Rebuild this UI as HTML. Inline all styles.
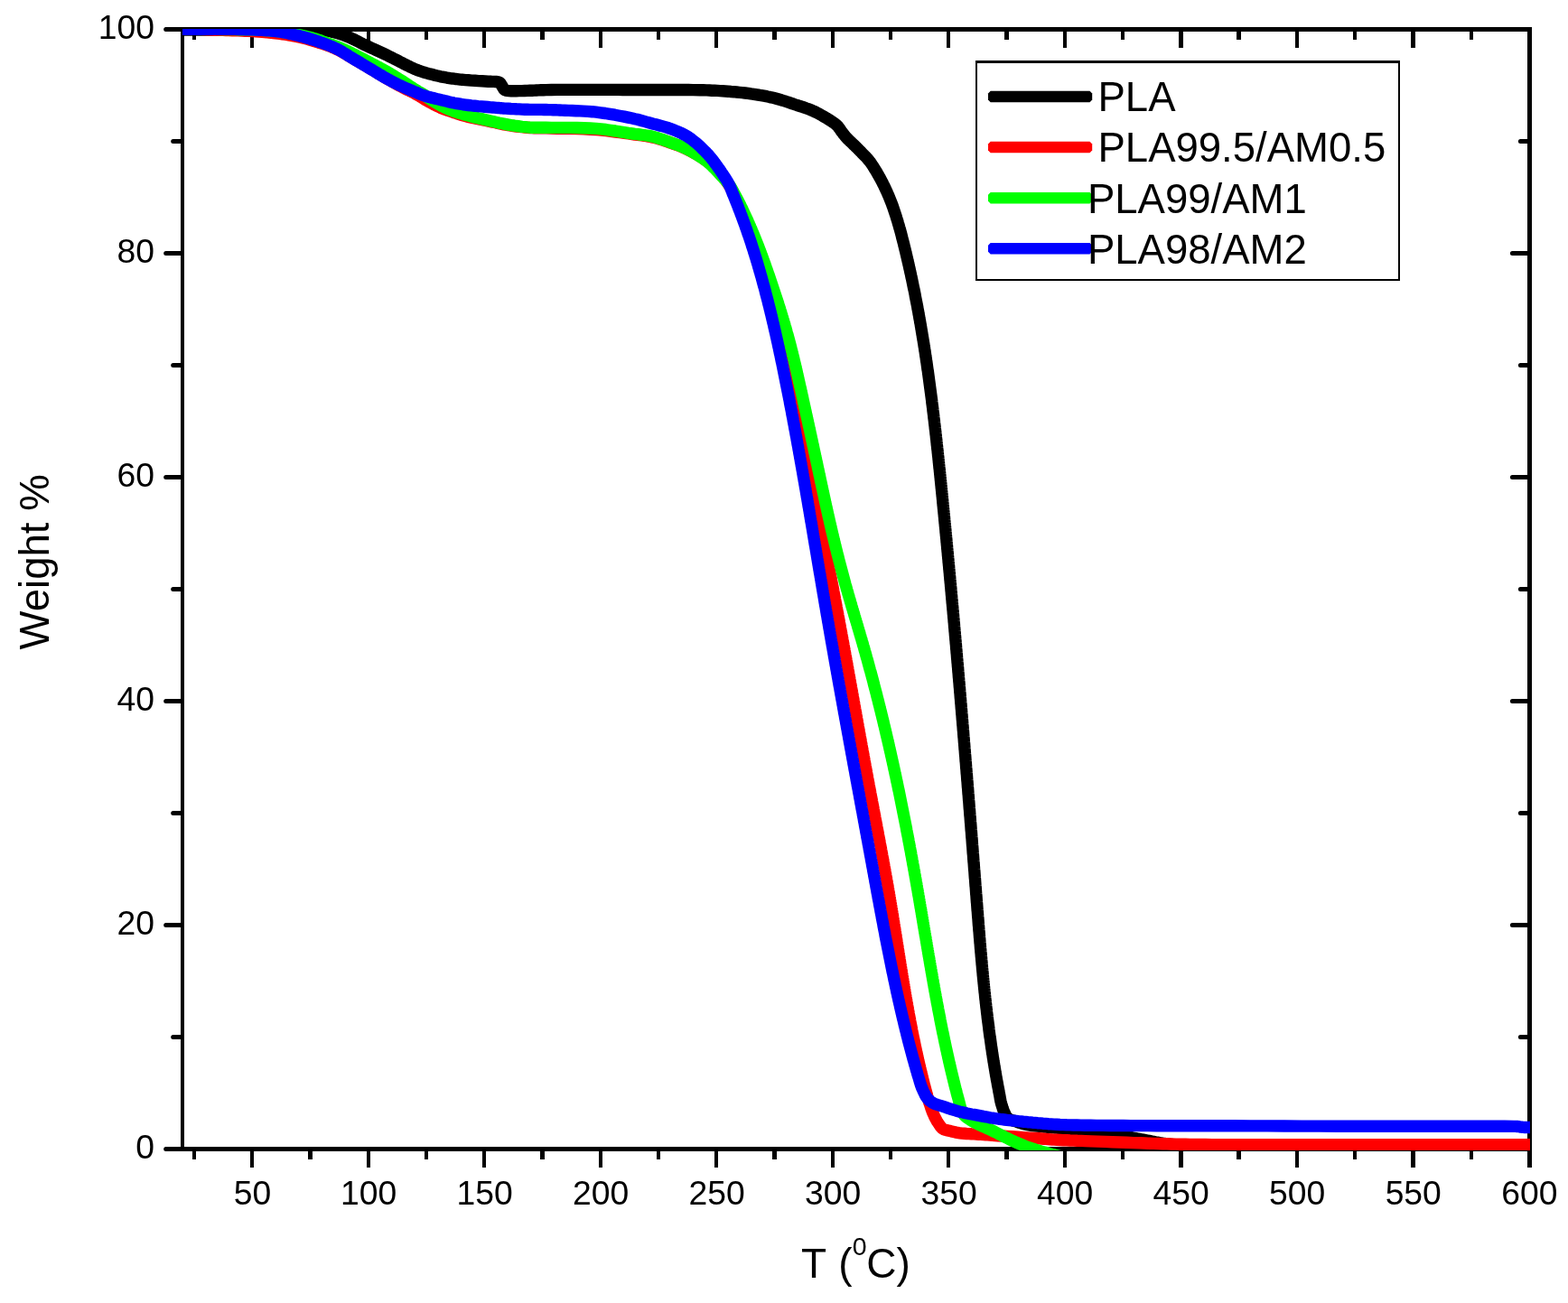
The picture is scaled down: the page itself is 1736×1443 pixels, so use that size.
<!DOCTYPE html>
<html lang="en"><head><meta charset="utf-8"><title>TGA curves: Weight % vs T</title>
<style>html,body{margin:0;padding:0;background:#fff}body{width:1736px;height:1443px;overflow:hidden}svg{display:block}text{font-family:"Liberation Sans",sans-serif;fill:#000}</style></head><body>
<svg width="1736" height="1443" viewBox="0 0 1736 1443">
<rect x="0" y="0" width="1736" height="1443" fill="#fff"/>
<defs><clipPath id="plot"><rect x="202" y="32" width="1492.00" height="1242.00"/></clipPath></defs>
<g fill="#000" shape-rendering="crispEdges">
<rect x="182.50" y="30.00" width="1513.50" height="5.00"/>
<rect x="182.50" y="1270.00" width="1513.50" height="5.00"/>
<rect x="200.00" y="30.00" width="4.00" height="1245.00"/>
<rect x="1691.00" y="30.00" width="5.00" height="1263.00"/>
<rect x="213.00" y="1272.50" width="4.00" height="11.50"/>
<rect x="213.00" y="32.50" width="4.00" height="11.50"/>
<rect x="277.00" y="1272.50" width="4.00" height="20.50"/>
<rect x="277.00" y="32.50" width="4.00" height="20.50"/>
<rect x="341.00" y="1272.50" width="5.00" height="11.50"/>
<rect x="341.00" y="32.50" width="5.00" height="11.50"/>
<rect x="406.00" y="1272.50" width="4.00" height="20.50"/>
<rect x="406.00" y="32.50" width="4.00" height="20.50"/>
<rect x="470.00" y="1272.50" width="4.00" height="11.50"/>
<rect x="470.00" y="32.50" width="4.00" height="11.50"/>
<rect x="534.00" y="1272.50" width="4.00" height="20.50"/>
<rect x="534.00" y="32.50" width="4.00" height="20.50"/>
<rect x="598.00" y="1272.50" width="5.00" height="11.50"/>
<rect x="598.00" y="32.50" width="5.00" height="11.50"/>
<rect x="663.00" y="1272.50" width="4.00" height="20.50"/>
<rect x="663.00" y="32.50" width="4.00" height="20.50"/>
<rect x="727.00" y="1272.50" width="4.00" height="11.50"/>
<rect x="727.00" y="32.50" width="4.00" height="11.50"/>
<rect x="791.00" y="1272.50" width="4.00" height="20.50"/>
<rect x="791.00" y="32.50" width="4.00" height="20.50"/>
<rect x="855.00" y="1272.50" width="5.00" height="11.50"/>
<rect x="855.00" y="32.50" width="5.00" height="11.50"/>
<rect x="920.00" y="1272.50" width="4.00" height="20.50"/>
<rect x="920.00" y="32.50" width="4.00" height="20.50"/>
<rect x="984.00" y="1272.50" width="4.00" height="11.50"/>
<rect x="984.00" y="32.50" width="4.00" height="11.50"/>
<rect x="1048.00" y="1272.50" width="4.00" height="20.50"/>
<rect x="1048.00" y="32.50" width="4.00" height="20.50"/>
<rect x="1112.00" y="1272.50" width="5.00" height="11.50"/>
<rect x="1112.00" y="32.50" width="5.00" height="11.50"/>
<rect x="1177.00" y="1272.50" width="4.00" height="20.50"/>
<rect x="1177.00" y="32.50" width="4.00" height="20.50"/>
<rect x="1241.00" y="1272.50" width="4.00" height="11.50"/>
<rect x="1241.00" y="32.50" width="4.00" height="11.50"/>
<rect x="1305.00" y="1272.50" width="5.00" height="20.50"/>
<rect x="1305.00" y="32.50" width="5.00" height="20.50"/>
<rect x="1369.00" y="1272.50" width="5.00" height="11.50"/>
<rect x="1369.00" y="32.50" width="5.00" height="11.50"/>
<rect x="1434.00" y="1272.50" width="4.00" height="20.50"/>
<rect x="1434.00" y="32.50" width="4.00" height="20.50"/>
<rect x="1498.00" y="1272.50" width="4.00" height="11.50"/>
<rect x="1498.00" y="32.50" width="4.00" height="11.50"/>
<rect x="1562.00" y="1272.50" width="5.00" height="20.50"/>
<rect x="1562.00" y="32.50" width="5.00" height="20.50"/>
<rect x="1627.00" y="1272.50" width="4.00" height="11.50"/>
<rect x="1627.00" y="32.50" width="4.00" height="11.50"/>
<rect x="1674.30" y="1270.00" width="19.30" height="5.00"/>
<rect x="191.50" y="1146.00" width="10.50" height="5.00"/>
<rect x="1683.30" y="1146.00" width="10.30" height="5.00"/>
<rect x="183.50" y="1022.00" width="18.50" height="5.00"/>
<rect x="1674.30" y="1022.00" width="19.30" height="5.00"/>
<rect x="191.50" y="898.00" width="10.50" height="5.00"/>
<rect x="1683.30" y="898.00" width="10.30" height="5.00"/>
<rect x="183.50" y="774.00" width="18.50" height="5.00"/>
<rect x="1674.30" y="774.00" width="19.30" height="5.00"/>
<rect x="191.50" y="650.00" width="10.50" height="5.00"/>
<rect x="1683.30" y="650.00" width="10.30" height="5.00"/>
<rect x="183.50" y="526.00" width="18.50" height="5.00"/>
<rect x="1674.30" y="526.00" width="19.30" height="5.00"/>
<rect x="191.50" y="402.00" width="10.50" height="5.00"/>
<rect x="1683.30" y="402.00" width="10.30" height="5.00"/>
<rect x="183.50" y="278.00" width="18.50" height="5.00"/>
<rect x="1674.30" y="278.00" width="19.30" height="5.00"/>
<rect x="191.50" y="154.00" width="10.50" height="5.00"/>
<rect x="1683.30" y="154.00" width="10.30" height="5.00"/>
<rect x="1674.30" y="30.00" width="19.30" height="5.00"/>
</g>
<g fill="#000">
<circle cx="183.70" cy="1272.50" r="2.5"/>
<circle cx="191.70" cy="1148.50" r="2.5"/>
<circle cx="1683.40" cy="1148.50" r="2.5"/>
<circle cx="183.70" cy="1024.50" r="2.5"/>
<circle cx="1674.40" cy="1024.50" r="2.5"/>
<circle cx="191.70" cy="900.50" r="2.5"/>
<circle cx="1683.40" cy="900.50" r="2.5"/>
<circle cx="183.70" cy="776.50" r="2.5"/>
<circle cx="1674.40" cy="776.50" r="2.5"/>
<circle cx="191.70" cy="652.50" r="2.5"/>
<circle cx="1683.40" cy="652.50" r="2.5"/>
<circle cx="183.70" cy="528.50" r="2.5"/>
<circle cx="1674.40" cy="528.50" r="2.5"/>
<circle cx="191.70" cy="404.50" r="2.5"/>
<circle cx="1683.40" cy="404.50" r="2.5"/>
<circle cx="183.70" cy="280.50" r="2.5"/>
<circle cx="1674.40" cy="280.50" r="2.5"/>
<circle cx="191.70" cy="156.50" r="2.5"/>
<circle cx="1683.40" cy="156.50" r="2.5"/>
<circle cx="183.70" cy="32.50" r="2.5"/>
</g>
<g font-size="37.3">
<text x="279.50" y="1334.20" text-anchor="middle">50</text>
<text x="408.02" y="1334.20" text-anchor="middle">100</text>
<text x="536.55" y="1334.20" text-anchor="middle">150</text>
<text x="665.08" y="1334.20" text-anchor="middle">200</text>
<text x="793.60" y="1334.20" text-anchor="middle">250</text>
<text x="922.12" y="1334.20" text-anchor="middle">300</text>
<text x="1050.65" y="1334.20" text-anchor="middle">350</text>
<text x="1179.17" y="1334.20" text-anchor="middle">400</text>
<text x="1307.70" y="1334.20" text-anchor="middle">450</text>
<text x="1436.22" y="1334.20" text-anchor="middle">500</text>
<text x="1564.75" y="1334.20" text-anchor="middle">550</text>
<text x="1693.28" y="1334.20" text-anchor="middle">600</text>
<text x="170.90" y="1282.80" text-anchor="end">0</text>
<text x="170.90" y="1034.80" text-anchor="end">20</text>
<text x="170.90" y="786.80" text-anchor="end">40</text>
<text x="170.90" y="538.80" text-anchor="end">60</text>
<text x="170.90" y="290.80" text-anchor="end">80</text>
<text x="170.90" y="42.80" text-anchor="end">100</text>
</g>
<text x="887.1" y="1414.9" font-size="46">T <tspan dx="1">(</tspan><tspan font-size="28.5" dy="-24.6" dx="0.3">0</tspan><tspan dy="24.6" dx="-0.3">C)</tspan></text>
<text transform="translate(53.7,622.4) rotate(-90)" font-size="45.6" text-anchor="middle">Weight %</text>
<g clip-path="url(#plot)" fill="none" stroke-width="13.40" stroke-linejoin="round" stroke-linecap="butt">
<path stroke="#000000" d="M190.0,33.0 L191.4,33.0 L192.7,33.0 L194.0,33.0 L195.3,33.0 L196.7,33.0 L198.2,33.0 L199.9,33.0 L202.0,33.0 L210.0,33.0 L220.6,33.0 L233.3,33.0 L247.1,33.0 L261.5,33.0 L275.6,33.0 L288.7,33.0 L300.0,33.0 L307.3,33.0 L314.5,33.0 L321.5,33.0 L328.2,33.0 L334.5,33.0 L340.3,33.1 L345.5,33.2 L350.0,33.3 L351.9,33.4 L353.6,33.4 L355.1,33.5 L356.5,33.6 L357.8,33.7 L359.2,33.8 L360.5,34.0 L362.0,34.2 L363.6,34.5 L365.2,34.7 L366.8,35.0 L368.4,35.4 L370.1,35.8 L371.7,36.2 L373.3,36.6 L375.0,37.1 L376.8,37.7 L378.7,38.3 L380.6,39.0 L382.5,39.7 L384.4,40.5 L386.3,41.2 L388.2,42.0 L390.0,42.8 L391.7,43.6 L393.4,44.4 L395.0,45.2 L396.6,46.0 L398.2,46.9 L399.9,47.8 L401.7,48.7 L403.6,49.6 L406.4,50.9 L409.5,52.4 L412.7,53.8 L416.1,55.4 L419.4,56.9 L422.7,58.4 L425.9,59.9 L428.8,61.3 L431.0,62.4 L433.2,63.5 L435.2,64.5 L437.2,65.6 L439.2,66.6 L441.2,67.6 L443.1,68.6 L445.1,69.6 L447.0,70.6 L448.9,71.5 L450.8,72.5 L452.8,73.4 L454.6,74.4 L456.5,75.2 L458.3,76.1 L460.0,76.8 L461.3,77.3 L462.5,77.8 L463.7,78.2 L464.9,78.6 L466.1,79.0 L467.3,79.4 L468.6,79.8 L470.0,80.2 L472.0,80.8 L474.1,81.4 L476.4,82.0 L478.7,82.6 L481.0,83.2 L483.3,83.8 L485.6,84.3 L487.7,84.8 L489.4,85.1 L491.1,85.4 L492.7,85.7 L494.3,86.0 L495.9,86.3 L497.5,86.5 L499.1,86.8 L500.8,87.0 L502.6,87.2 L504.3,87.5 L506.0,87.7 L507.8,87.9 L509.5,88.1 L511.4,88.2 L513.3,88.4 L515.4,88.6 L518.6,88.8 L522.1,89.1 L525.9,89.3 L529.8,89.6 L533.7,89.8 L537.3,90.0 L540.5,90.2 L543.2,90.3 L544.4,90.4 L545.5,90.4 L546.5,90.4 L547.5,90.4 L548.4,90.5 L549.2,90.5 L550.7,90.7 L551.5,90.8 L552.6,91.1 L553.5,91.6 L554.2,92.4 L554.8,93.4 L555.4,94.5 L556.0,95.5 L556.6,96.5 L557.2,97.6 L557.8,98.6 L558.5,99.4 L559.4,99.9 L560.5,100.2 L561.5,100.4 L563.3,100.6 L565.7,100.7 L568.4,100.7 L571.5,100.7 L574.7,100.6 L577.9,100.6 L581.1,100.5 L584.0,100.4 L586.6,100.3 L589.0,100.2 L591.4,100.1 L593.8,100.0 L596.2,99.9 L598.8,99.8 L601.6,99.7 L604.7,99.6 L610.4,99.5 L616.9,99.4 L623.9,99.4 L631.2,99.4 L638.7,99.4 L646.2,99.4 L653.3,99.4 L660.0,99.4 L665.2,99.4 L670.2,99.4 L674.9,99.4 L679.6,99.4 L684.4,99.4 L689.3,99.5 L694.4,99.5 L700.0,99.5 L708.5,99.5 L718.0,99.5 L728.2,99.5 L738.6,99.5 L748.8,99.5 L758.5,99.5 L767.4,99.6 L775.0,99.8 L778.8,99.8 L782.2,99.9 L785.4,100.0 L788.3,100.2 L791.2,100.3 L794.1,100.4 L797.0,100.6 L800.0,100.8 L803.1,101.0 L806.3,101.2 L809.4,101.5 L812.5,101.7 L815.6,102.0 L818.8,102.3 L821.9,102.6 L825.0,103.0 L828.2,103.4 L831.4,103.9 L834.7,104.3 L837.9,104.8 L841.1,105.4 L844.2,105.9 L847.2,106.4 L850.0,107.0 L852.1,107.4 L854.0,107.9 L855.9,108.3 L857.8,108.8 L859.6,109.3 L861.4,109.8 L863.2,110.3 L865.0,110.8 L866.9,111.4 L868.7,111.9 L870.5,112.5 L872.4,113.1 L874.2,113.7 L876.1,114.4 L878.0,115.0 L880.0,115.7 L882.4,116.5 L885.0,117.3 L887.6,118.2 L890.2,119.0 L892.9,120.0 L895.6,120.9 L898.2,122.0 L900.8,123.1 L903.5,124.4 L906.4,125.9 L909.3,127.5 L912.1,129.1 L914.9,130.7 L917.4,132.3 L919.7,133.7 L921.6,135.0 L922.5,135.6 L923.3,136.1 L924.0,136.6 L924.6,137.1 L925.8,138.1 L926.4,138.7 L927.0,139.3 L927.7,140.0 L928.3,140.8 L928.9,141.7 L929.6,142.5 L930.2,143.4 L930.8,144.3 L931.4,145.2 L932.0,146.0 L932.6,146.8 L933.2,147.6 L933.8,148.4 L934.5,149.2 L935.1,150.0 L935.7,150.8 L936.3,151.6 L937.0,152.3 L937.6,153.0 L938.3,153.7 L939.0,154.3 L939.6,155.0 L940.3,155.6 L941.0,156.3 L941.7,156.9 L942.4,157.6 L943.1,158.3 L943.9,159.0 L944.6,159.7 L945.3,160.4 L946.1,161.1 L946.8,161.9 L947.6,162.6 L948.3,163.3 L949.0,164.0 L949.8,164.8 L950.5,165.5 L951.2,166.3 L952.0,167.0 L952.7,167.8 L953.5,168.6 L954.3,169.4 L955.3,170.4 L956.3,171.5 L957.3,172.5 L958.4,173.6 L959.5,174.7 L960.5,175.9 L961.5,177.1 L962.5,178.3 L963.6,179.7 L964.6,181.1 L965.6,182.6 L966.6,184.1 L967.6,185.7 L968.5,187.2 L969.5,188.8 L970.4,190.3 L971.3,191.8 L972.1,193.3 L973.0,194.8 L973.8,196.3 L974.7,197.8 L975.5,199.3 L976.3,200.8 L977.1,202.3 L977.8,203.8 L978.6,205.3 L979.3,206.8 L980.0,208.3 L980.7,209.8 L981.4,211.3 L982.1,212.8 L982.7,214.3 L983.4,215.8 L984.0,217.3 L984.6,218.8 L985.2,220.3 L985.8,221.8 L986.4,223.3 L987.0,224.8 L987.6,226.3 L988.1,227.8 L988.7,229.3 L989.2,230.8 L989.7,232.3 L990.2,233.8 L990.7,235.3 L991.2,236.8 L991.7,238.3 L992.2,239.8 L992.6,241.3 L993.1,242.8 L993.6,244.3 L994.0,245.8 L994.4,247.3 L994.9,248.8 L995.3,250.3 L995.7,251.8 L996.2,253.3 L996.6,254.8 L997.0,256.3 L997.4,257.8 L997.8,259.3 L998.2,260.8 L998.5,262.3 L998.9,263.8 L999.3,265.3 L999.7,266.8 L1000.1,268.3 L1000.5,269.8 L1000.8,271.3 L1001.2,272.8 L1001.6,274.3 L1001.9,275.8 L1002.3,277.3 L1002.7,278.8 L1003.0,280.3 L1003.4,281.8 L1003.7,283.3 L1004.1,284.8 L1004.4,286.3 L1004.8,287.8 L1005.1,289.3 L1005.5,290.8 L1005.8,292.3 L1006.2,293.8 L1006.5,295.3 L1006.8,296.8 L1007.2,298.3 L1007.5,299.8 L1007.8,301.3 L1008.2,302.8 L1008.5,304.3 L1008.8,305.8 L1009.1,307.3 L1009.5,308.8 L1009.8,310.3 L1010.1,311.8 L1010.4,313.3 L1010.7,314.8 L1011.0,316.3 L1011.3,317.8 L1011.6,319.3 L1012.0,320.8 L1012.3,322.3 L1012.6,323.8 L1012.9,325.3 L1013.2,326.8 L1013.4,328.3 L1013.7,329.8 L1014.0,331.3 L1014.3,332.8 L1014.6,334.3 L1014.9,335.8 L1015.2,337.3 L1015.5,338.8 L1015.8,340.3 L1016.0,341.8 L1016.3,343.3 L1016.6,344.8 L1016.9,346.3 L1017.1,347.8 L1017.4,349.3 L1017.7,350.8 L1017.9,352.3 L1018.2,353.8 L1018.5,355.3 L1018.7,356.8 L1019.0,358.3 L1019.3,359.8 L1019.5,361.3 L1019.8,362.8 L1020.0,364.3 L1020.3,365.8 L1020.5,367.3 L1020.8,368.8 L1021.0,370.3 L1021.3,371.8 L1021.5,373.3 L1021.8,374.8 L1022.0,376.3 L1022.3,377.8 L1022.5,379.3 L1022.8,380.8 L1023.0,382.3 L1023.2,383.8 L1023.5,385.3 L1023.7,386.8 L1023.9,388.3 L1024.2,389.8 L1024.4,391.3 L1024.6,392.8 L1024.8,394.3 L1025.1,395.8 L1025.3,397.3 L1025.5,398.8 L1025.7,400.3 L1026.0,401.8 L1026.2,403.3 L1026.4,404.8 L1026.6,406.3 L1026.8,407.8 L1027.0,409.3 L1027.3,410.8 L1027.5,412.3 L1027.7,413.8 L1027.9,415.3 L1028.1,416.8 L1028.3,418.3 L1028.5,419.8 L1028.7,421.3 L1028.9,422.8 L1029.1,424.3 L1029.3,425.8 L1029.5,427.3 L1029.7,428.8 L1029.9,430.3 L1030.1,431.8 L1030.3,433.3 L1030.5,434.8 L1030.7,436.3 L1030.9,437.8 L1031.1,439.3 L1031.3,440.8 L1031.5,442.3 L1031.7,443.8 L1031.8,445.3 L1032.0,446.8 L1032.2,448.3 L1032.4,449.8 L1032.6,451.3 L1032.8,452.8 L1032.9,454.3 L1033.1,455.8 L1033.3,457.3 L1033.5,458.8 L1033.7,460.3 L1033.8,461.8 L1034.0,463.3 L1034.2,464.8 L1034.4,466.3 L1034.5,467.8 L1034.7,469.3 L1034.9,470.8 L1035.1,472.3 L1035.2,473.8 L1035.4,475.3 L1035.6,476.8 L1035.8,478.3 L1035.9,479.8 L1036.1,481.3 L1036.3,482.8 L1036.4,484.3 L1036.6,485.8 L1036.8,487.3 L1036.9,488.8 L1037.1,490.3 L1037.2,491.8 L1037.4,493.3 L1037.6,494.8 L1037.7,496.3 L1037.9,497.8 L1038.1,499.3 L1038.2,500.8 L1038.4,502.3 L1038.5,503.8 L1038.7,505.3 L1038.9,506.8 L1039.0,508.3 L1039.2,509.8 L1039.3,511.3 L1039.5,512.8 L1039.6,514.3 L1039.8,515.8 L1039.9,517.3 L1040.1,518.8 L1040.3,520.3 L1040.4,521.8 L1040.6,523.3 L1040.7,524.8 L1040.9,526.3 L1041.0,527.8 L1041.2,529.3 L1041.3,530.8 L1041.5,532.3 L1041.6,533.8 L1041.8,535.3 L1041.9,536.8 L1042.1,538.3 L1042.2,539.8 L1042.4,541.3 L1042.5,542.8 L1042.7,544.3 L1042.8,545.8 L1043.0,547.3 L1043.1,548.8 L1043.3,550.3 L1043.4,551.8 L1043.6,553.3 L1043.7,554.8 L1043.8,556.3 L1044.0,557.8 L1044.1,559.3 L1044.3,560.8 L1044.4,562.3 L1044.6,563.8 L1044.7,565.3 L1044.9,566.8 L1045.0,568.3 L1045.2,569.8 L1045.3,571.3 L1045.5,572.8 L1045.6,574.3 L1045.7,575.8 L1045.9,577.3 L1046.0,578.8 L1046.2,580.3 L1046.3,581.8 L1046.5,583.3 L1046.6,584.8 L1046.8,586.3 L1046.9,587.8 L1047.0,589.3 L1047.2,590.8 L1047.3,592.3 L1047.5,593.8 L1047.6,595.3 L1047.8,596.8 L1047.9,598.3 L1048.0,599.8 L1048.2,601.3 L1048.3,602.8 L1048.5,604.3 L1048.6,605.8 L1048.7,607.3 L1048.9,608.8 L1049.0,610.3 L1049.2,611.8 L1049.3,613.3 L1049.4,614.8 L1049.6,616.3 L1049.7,617.8 L1049.9,619.3 L1050.0,620.8 L1050.1,622.3 L1050.3,623.8 L1050.4,625.3 L1050.6,626.8 L1050.7,628.3 L1050.8,629.8 L1051.0,631.3 L1051.1,632.8 L1051.3,634.3 L1051.4,635.8 L1051.5,637.3 L1051.7,638.8 L1051.8,640.3 L1051.9,641.8 L1052.1,643.3 L1052.2,644.8 L1052.4,646.3 L1052.5,647.8 L1052.6,649.3 L1052.8,650.8 L1052.9,652.3 L1053.0,653.8 L1053.2,655.3 L1053.3,656.8 L1053.4,658.3 L1053.6,659.8 L1053.7,661.3 L1053.8,662.8 L1054.0,664.3 L1054.1,665.8 L1054.2,667.3 L1054.4,668.8 L1054.5,670.3 L1054.7,671.8 L1054.8,673.3 L1054.9,674.8 L1055.1,676.3 L1055.2,677.8 L1055.3,679.3 L1055.5,680.8 L1055.6,682.3 L1055.7,683.8 L1055.9,685.3 L1056.0,686.8 L1056.1,688.3 L1056.3,689.8 L1056.4,691.3 L1056.5,692.8 L1056.6,694.3 L1056.8,695.8 L1056.9,697.3 L1057.0,698.8 L1057.2,700.3 L1057.3,701.8 L1057.4,703.3 L1057.6,704.8 L1057.7,706.3 L1057.8,707.8 L1058.0,709.3 L1058.1,710.8 L1058.2,712.3 L1058.4,713.8 L1058.5,715.3 L1058.6,716.8 L1058.7,718.3 L1058.9,719.8 L1059.0,721.3 L1059.1,722.8 L1059.3,724.3 L1059.4,725.8 L1059.5,727.3 L1059.6,728.8 L1059.8,730.3 L1059.9,731.8 L1060.0,733.3 L1060.2,734.8 L1060.3,736.3 L1060.4,737.8 L1060.6,739.3 L1060.7,740.8 L1060.8,742.3 L1060.9,743.8 L1061.1,745.3 L1061.2,746.8 L1061.3,748.3 L1061.4,749.8 L1061.6,751.3 L1061.7,752.8 L1061.8,754.3 L1062.0,755.8 L1062.1,757.3 L1062.2,758.8 L1062.3,760.3 L1062.5,761.8 L1062.6,763.3 L1062.7,764.8 L1062.8,766.3 L1063.0,767.8 L1063.1,769.3 L1063.2,770.8 L1063.3,772.3 L1063.5,773.8 L1063.6,775.3 L1063.7,776.8 L1063.8,778.3 L1064.0,779.8 L1064.1,781.3 L1064.2,782.8 L1064.3,784.3 L1064.5,785.8 L1064.6,787.3 L1064.7,788.8 L1064.8,790.3 L1065.0,791.8 L1065.1,793.3 L1065.2,794.8 L1065.3,796.3 L1065.5,797.8 L1065.6,799.3 L1065.7,800.8 L1065.8,802.3 L1066.0,803.8 L1066.1,805.3 L1066.2,806.8 L1066.3,808.3 L1066.5,809.8 L1066.6,811.3 L1066.7,812.8 L1066.8,814.3 L1066.9,815.8 L1067.1,817.3 L1067.2,818.8 L1067.3,820.3 L1067.4,821.8 L1067.6,823.3 L1067.7,824.8 L1067.8,826.3 L1067.9,827.8 L1068.0,829.3 L1068.2,830.8 L1068.3,832.3 L1068.4,833.8 L1068.5,835.3 L1068.7,836.8 L1068.8,838.3 L1068.9,839.8 L1069.0,841.3 L1069.1,842.8 L1069.3,844.3 L1069.4,845.8 L1069.5,847.3 L1069.6,848.8 L1069.7,850.3 L1069.9,851.8 L1070.0,853.3 L1070.1,854.8 L1070.2,856.3 L1070.4,857.8 L1070.5,859.3 L1070.6,860.8 L1070.7,862.3 L1070.8,863.8 L1071.0,865.3 L1071.1,866.8 L1071.2,868.3 L1071.3,869.8 L1071.4,871.3 L1071.6,872.8 L1071.7,874.3 L1071.8,875.8 L1071.9,877.3 L1072.0,878.8 L1072.2,880.3 L1072.3,881.8 L1072.4,883.3 L1072.5,884.8 L1072.6,886.3 L1072.8,887.8 L1072.9,889.3 L1073.0,890.8 L1073.1,892.3 L1073.2,893.8 L1073.3,895.3 L1073.5,896.8 L1073.6,898.3 L1073.7,899.8 L1073.8,901.3 L1073.9,902.8 L1074.1,904.3 L1074.2,905.8 L1074.3,907.3 L1074.4,908.8 L1074.5,910.3 L1074.7,911.8 L1074.8,913.3 L1074.9,914.8 L1075.0,916.3 L1075.1,917.8 L1075.2,919.3 L1075.4,920.8 L1075.5,922.3 L1075.6,923.8 L1075.7,925.3 L1075.8,926.8 L1076.0,928.3 L1076.1,929.8 L1076.2,931.3 L1076.3,932.8 L1076.4,934.3 L1076.5,935.8 L1076.7,937.3 L1076.8,938.8 L1076.9,940.3 L1077.0,941.8 L1077.1,943.3 L1077.2,944.8 L1077.4,946.3 L1077.5,947.8 L1077.6,949.3 L1077.7,950.8 L1077.8,952.3 L1077.9,953.8 L1078.1,955.3 L1078.2,956.8 L1078.3,958.3 L1078.4,959.8 L1078.5,961.3 L1078.6,962.8 L1078.8,964.3 L1078.9,965.8 L1079.0,967.3 L1079.1,968.8 L1079.2,970.3 L1079.3,971.8 L1079.5,973.3 L1079.6,974.8 L1079.7,976.3 L1079.8,977.8 L1079.9,979.3 L1080.0,980.8 L1080.2,982.3 L1080.3,983.8 L1080.4,985.3 L1080.5,986.8 L1080.6,988.3 L1080.7,989.8 L1080.9,991.3 L1081.0,992.8 L1081.1,994.3 L1081.2,995.8 L1081.3,997.3 L1081.4,998.8 L1081.6,1000.3 L1081.7,1001.8 L1081.8,1003.3 L1081.9,1004.8 L1082.0,1006.3 L1082.1,1007.8 L1082.3,1009.3 L1082.4,1010.8 L1082.5,1012.3 L1082.6,1013.8 L1082.7,1015.3 L1082.9,1016.8 L1083.0,1018.3 L1083.1,1019.8 L1083.2,1021.3 L1083.3,1022.8 L1083.4,1024.3 L1083.6,1025.8 L1083.7,1027.3 L1083.8,1028.8 L1083.9,1030.3 L1084.1,1031.8 L1084.2,1033.3 L1084.3,1034.8 L1084.4,1036.3 L1084.5,1037.8 L1084.7,1039.3 L1084.8,1040.8 L1084.9,1042.3 L1085.0,1043.8 L1085.2,1045.3 L1085.3,1046.8 L1085.4,1048.3 L1085.5,1049.8 L1085.7,1051.3 L1085.8,1052.8 L1085.9,1054.3 L1086.1,1055.8 L1086.2,1057.3 L1086.3,1058.8 L1086.5,1060.3 L1086.6,1061.8 L1086.7,1063.3 L1086.9,1064.8 L1087.0,1066.3 L1087.1,1067.8 L1087.3,1069.3 L1087.4,1070.8 L1087.5,1072.3 L1087.7,1073.8 L1087.8,1075.3 L1088.0,1076.8 L1088.1,1078.3 L1088.2,1079.8 L1088.4,1081.3 L1088.5,1082.8 L1088.7,1084.3 L1088.8,1085.8 L1089.0,1087.3 L1089.1,1088.8 L1089.3,1090.3 L1089.4,1091.8 L1089.6,1093.3 L1089.7,1094.8 L1089.9,1096.3 L1090.0,1097.8 L1090.2,1099.3 L1090.4,1100.8 L1090.5,1102.3 L1090.7,1103.8 L1090.8,1105.3 L1091.0,1106.8 L1091.2,1108.3 L1091.3,1109.8 L1091.5,1111.3 L1091.7,1112.8 L1091.8,1114.3 L1092.0,1115.8 L1092.2,1117.3 L1092.4,1118.8 L1092.5,1120.3 L1092.7,1121.8 L1092.9,1123.3 L1093.1,1124.8 L1093.2,1126.3 L1093.4,1127.8 L1093.6,1129.3 L1093.8,1130.8 L1094.0,1132.3 L1094.2,1133.8 L1094.4,1135.3 L1094.6,1136.8 L1094.8,1138.3 L1094.9,1139.8 L1095.1,1141.3 L1095.3,1142.8 L1095.5,1144.3 L1095.7,1145.8 L1095.9,1147.3 L1096.1,1148.8 L1096.4,1150.3 L1096.6,1151.8 L1096.8,1153.3 L1097.0,1154.8 L1097.2,1156.3 L1097.4,1157.8 L1097.6,1159.3 L1097.8,1160.8 L1098.1,1162.3 L1098.3,1163.8 L1098.5,1165.3 L1098.7,1166.8 L1099.0,1168.3 L1099.2,1169.8 L1099.4,1171.3 L1099.7,1172.8 L1099.9,1174.3 L1100.1,1175.8 L1100.4,1177.3 L1100.6,1178.8 L1100.9,1180.3 L1101.1,1181.8 L1101.4,1183.3 L1101.6,1184.8 L1101.9,1186.3 L1102.1,1187.8 L1102.4,1189.3 L1102.6,1190.8 L1102.9,1192.3 L1103.2,1193.8 L1103.4,1195.3 L1103.7,1196.8 L1104.0,1198.3 L1104.3,1199.8 L1104.5,1201.3 L1104.8,1202.8 L1105.1,1204.3 L1105.4,1205.8 L1105.7,1207.3 L1105.9,1208.8 L1106.2,1210.3 L1106.5,1211.8 L1106.8,1213.3 L1107.1,1214.9 L1107.3,1216.4 L1107.6,1217.9 L1107.9,1219.4 L1108.3,1220.9 L1108.6,1222.3 L1109.0,1223.6 L1109.4,1224.9 L1109.8,1226.1 L1110.2,1227.4 L1110.6,1228.6 L1111.0,1229.8 L1111.5,1230.9 L1112.0,1232.0 L1112.4,1232.9 L1112.8,1233.8 L1113.3,1234.7 L1113.7,1235.6 L1114.2,1236.4 L1114.7,1237.1 L1115.3,1237.9 L1116.0,1238.5 L1116.9,1239.1 L1117.9,1239.7 L1119.0,1240.1 L1120.2,1240.5 L1121.4,1240.9 L1122.6,1241.3 L1123.8,1241.6 L1125.0,1242.0 L1126.2,1242.4 L1127.5,1242.9 L1128.7,1243.3 L1130.0,1243.7 L1131.2,1244.1 L1132.6,1244.5 L1134.0,1244.9 L1135.5,1245.2 L1137.8,1245.7 L1140.3,1246.1 L1143.0,1246.5 L1145.7,1246.8 L1148.5,1247.1 L1151.2,1247.4 L1153.9,1247.7 L1156.3,1248.0 L1158.1,1248.2 L1159.8,1248.4 L1161.4,1248.5 L1163.0,1248.6 L1164.6,1248.8 L1166.3,1248.9 L1168.0,1249.0 L1170.0,1249.2 L1173.3,1249.5 L1176.9,1249.7 L1180.8,1250.0 L1184.8,1250.3 L1188.9,1250.6 L1193.0,1250.9 L1197.1,1251.2 L1201.0,1251.5 L1204.7,1251.8 L1208.5,1252.0 L1212.4,1252.3 L1216.2,1252.6 L1219.9,1252.9 L1223.5,1253.2 L1226.8,1253.6 L1230.0,1254.0 L1232.2,1254.4 L1234.2,1254.8 L1236.2,1255.2 L1238.1,1255.7 L1239.9,1256.2 L1241.7,1256.6 L1243.4,1257.1 L1245.0,1257.5 L1246.1,1257.8 L1247.2,1258.1 L1248.2,1258.4 L1249.2,1258.7 L1250.1,1259.0 L1251.2,1259.2 L1252.2,1259.5 L1253.4,1259.8 L1255.2,1260.2 L1257.1,1260.6 L1259.2,1261.0 L1261.3,1261.4 L1263.5,1261.8 L1265.7,1262.2 L1267.9,1262.6 L1270.0,1263.0 L1272.2,1263.4 L1274.5,1263.9 L1276.9,1264.3 L1279.2,1264.8 L1281.5,1265.2 L1283.7,1265.6 L1285.9,1266.0 L1288.0,1266.3 L1289.6,1266.5 L1291.1,1266.8 L1292.5,1267.0 L1294.0,1267.2 L1295.4,1267.3 L1296.8,1267.5 L1298.4,1267.7 L1300.0,1267.8 L1302.2,1268.0 L1304.3,1268.1 L1306.5,1268.2 L1308.8,1268.3 L1311.3,1268.3 L1313.9,1268.4 L1316.8,1268.4 L1320.0,1268.5 L1327.1,1268.6 L1335.0,1268.6 L1343.8,1268.6 L1353.4,1268.6 L1363.8,1268.6 L1375.1,1268.5 L1387.1,1268.5 L1400.0,1268.5 L1429.1,1268.5 L1463.3,1268.5 L1501.4,1268.5 L1542.4,1268.5 L1584.9,1268.5 L1627.8,1268.5 L1669.9,1268.5 L1710.0,1268.5"/>
<path stroke="#ff0000" d="M190.0,32.3 L191.5,32.3 L192.9,32.3 L194.3,32.3 L195.8,32.3 L197.2,32.3 L198.7,32.3 L200.3,32.3 L202.0,32.3 L204.6,32.3 L207.5,32.3 L210.5,32.3 L213.6,32.3 L216.7,32.4 L219.7,32.4 L222.5,32.4 L225.0,32.5 L226.4,32.6 L227.7,32.6 L228.9,32.7 L230.0,32.8 L231.1,32.9 L232.3,32.9 L233.6,33.0 L235.0,33.1 L237.6,33.2 L240.4,33.3 L243.5,33.4 L246.7,33.4 L250.0,33.5 L253.3,33.6 L256.7,33.7 L260.0,33.8 L263.7,33.9 L267.5,34.1 L271.3,34.3 L275.2,34.4 L279.1,34.6 L282.9,34.8 L286.5,35.1 L290.0,35.3 L292.7,35.5 L295.3,35.7 L297.8,36.0 L300.2,36.2 L302.6,36.5 L305.0,36.8 L307.5,37.1 L310.0,37.4 L312.7,37.8 L315.6,38.2 L318.4,38.6 L321.2,39.1 L324.1,39.6 L326.9,40.1 L329.6,40.6 L332.2,41.2 L334.4,41.7 L336.5,42.3 L338.6,42.8 L340.7,43.4 L342.7,44.0 L344.7,44.6 L346.7,45.3 L348.8,45.9 L350.9,46.5 L353.0,47.2 L355.2,47.8 L357.3,48.5 L359.4,49.2 L361.5,49.9 L363.5,50.6 L365.4,51.3 L366.9,51.9 L368.3,52.5 L369.7,53.1 L371.1,53.7 L372.4,54.3 L373.7,54.9 L375.1,55.6 L376.5,56.3 L378.1,57.2 L379.7,58.1 L381.4,59.0 L383.0,60.0 L384.7,61.0 L386.4,62.1 L388.2,63.1 L390.0,64.2 L392.3,65.6 L394.7,67.0 L397.2,68.5 L399.8,70.0 L402.4,71.5 L405.0,73.0 L407.5,74.5 L410.0,76.0 L412.4,77.4 L414.8,78.9 L417.2,80.3 L419.5,81.8 L421.9,83.2 L424.2,84.6 L426.5,86.0 L428.8,87.3 L430.9,88.5 L433.0,89.7 L435.1,90.9 L437.1,92.1 L439.2,93.2 L441.2,94.3 L443.1,95.4 L445.0,96.4 L446.6,97.2 L448.2,98.0 L449.7,98.8 L451.3,99.5 L452.8,100.2 L454.1,100.8 L455.4,101.4 L456.5,102.0 L457.5,102.5 L458.2,102.9 L459.0,103.3 L460.0,103.9 L461.3,104.7 L462.8,105.6 L464.5,106.6 L466.4,107.7 L468.3,108.9 L470.2,110.1 L472.1,111.2 L473.9,112.2 L475.6,113.2 L477.3,114.1 L479.1,115.0 L480.8,116.0 L482.5,116.8 L484.2,117.7 L486.0,118.5 L487.7,119.3 L489.3,120.0 L491.0,120.6 L492.6,121.2 L494.2,121.8 L495.8,122.3 L497.5,122.9 L499.1,123.4 L500.8,124.0 L502.5,124.6 L504.3,125.2 L506.0,125.8 L507.7,126.3 L509.5,126.9 L511.4,127.5 L513.3,128.0 L515.4,128.6 L518.5,129.4 L521.9,130.2 L525.5,130.9 L529.2,131.7 L532.9,132.5 L536.5,133.2 L540.0,133.9 L543.2,134.6 L545.5,135.1 L547.6,135.6 L549.7,136.1 L551.7,136.5 L553.7,137.0 L555.7,137.4 L557.8,137.8 L560.0,138.2 L562.8,138.7 L565.7,139.1 L568.8,139.6 L571.8,140.0 L574.9,140.4 L578.0,140.7 L581.1,141.0 L584.0,141.3 L586.6,141.5 L589.0,141.6 L591.4,141.7 L593.8,141.7 L596.3,141.7 L598.9,141.8 L601.6,141.8 L604.7,141.9 L610.4,142.0 L616.9,142.2 L623.9,142.3 L631.3,142.4 L638.8,142.6 L646.2,142.8 L653.3,143.2 L660.0,143.6 L665.4,144.1 L670.8,144.6 L676.1,145.3 L681.2,146.0 L686.2,146.7 L691.1,147.3 L695.7,148.0 L700.0,148.6 L702.9,149.0 L705.7,149.3 L708.3,149.6 L710.8,149.9 L713.3,150.3 L715.8,150.6 L718.3,151.1 L720.8,151.6 L723.4,152.2 L726.0,152.9 L728.6,153.6 L731.2,154.4 L733.8,155.2 L736.4,156.0 L739.0,156.9 L741.6,157.8 L744.2,158.7 L746.8,159.7 L749.5,160.6 L752.1,161.6 L754.7,162.7 L757.3,163.8 L759.8,165.0 L762.4,166.2 L765.1,167.6 L767.8,169.1 L770.6,170.6 L773.3,172.2 L775.9,173.8 L778.5,175.5 L780.9,177.2 L783.2,178.8 L784.9,180.1 L786.5,181.4 L788.0,182.8 L789.4,184.1 L790.8,185.5 L792.2,186.9 L793.6,188.3 L795.0,189.8 L796.6,191.5 L798.1,193.3 L799.7,195.1 L801.3,197.0 L802.8,198.9 L804.2,200.8 L805.6,202.7 L806.8,204.5 L807.8,206.0 L808.7,207.5 L809.5,209.0 L810.3,210.5 L811.1,212.0 L811.8,213.5 L812.5,215.0 L813.3,216.5 L814.0,218.0 L814.8,219.5 L815.5,221.0 L816.3,222.5 L817.0,224.0 L817.7,225.5 L818.4,227.0 L819.1,228.5 L819.8,230.0 L820.5,231.5 L821.2,233.0 L821.8,234.5 L822.5,236.0 L823.2,237.5 L823.8,239.0 L824.4,240.5 L825.1,242.0 L825.7,243.5 L826.3,245.0 L826.9,246.5 L827.5,248.0 L828.1,249.5 L828.7,251.0 L829.3,252.5 L829.8,254.0 L830.4,255.5 L831.0,257.0 L831.5,258.5 L832.1,260.0 L832.6,261.5 L833.2,263.0 L833.7,264.5 L834.2,266.0 L834.7,267.5 L835.3,269.0 L835.8,270.5 L836.3,272.0 L836.8,273.5 L837.3,275.0 L837.8,276.5 L838.3,278.0 L838.7,279.5 L839.2,281.0 L839.7,282.5 L840.2,284.0 L840.6,285.5 L841.1,287.0 L841.5,288.5 L842.0,290.0 L842.4,291.5 L842.9,293.0 L843.3,294.5 L843.8,296.0 L844.2,297.5 L844.6,299.0 L845.1,300.5 L845.5,302.0 L845.9,303.5 L846.4,305.0 L846.8,306.5 L847.2,308.0 L847.6,309.5 L848.0,311.0 L848.4,312.5 L848.9,314.0 L849.3,315.5 L849.7,317.0 L850.1,318.5 L850.5,320.0 L850.9,321.5 L851.3,323.0 L851.7,324.5 L852.1,326.0 L852.5,327.5 L852.9,329.0 L853.3,330.5 L853.7,332.0 L854.0,333.5 L854.4,335.0 L854.8,336.5 L855.2,338.0 L855.6,339.5 L856.0,341.0 L856.4,342.5 L856.7,344.0 L857.1,345.5 L857.5,347.0 L857.9,348.5 L858.2,350.0 L858.6,351.5 L859.0,353.0 L859.4,354.5 L859.7,356.0 L860.1,357.5 L860.5,359.0 L860.8,360.5 L861.2,362.0 L861.6,363.5 L861.9,365.0 L862.3,366.5 L862.6,368.0 L863.0,369.5 L863.4,371.0 L863.7,372.5 L864.1,374.0 L864.4,375.5 L864.8,377.0 L865.1,378.5 L865.5,380.0 L865.8,381.5 L866.2,383.0 L866.5,384.5 L866.9,386.0 L867.2,387.5 L867.6,389.0 L867.9,390.5 L868.3,392.0 L868.6,393.5 L868.9,395.0 L869.3,396.5 L869.6,398.0 L870.0,399.5 L870.3,401.0 L870.7,402.5 L871.0,404.0 L871.3,405.5 L871.7,407.0 L872.0,408.5 L872.3,410.0 L872.7,411.5 L873.0,413.0 L873.3,414.5 L873.7,416.0 L874.0,417.5 L874.4,419.0 L874.7,420.5 L875.0,422.0 L875.4,423.5 L875.7,425.0 L876.0,426.5 L876.3,428.0 L876.7,429.5 L877.0,431.0 L877.3,432.5 L877.7,434.0 L878.0,435.5 L878.3,437.0 L878.7,438.5 L879.0,440.0 L879.3,441.5 L879.6,443.0 L880.0,444.5 L880.3,446.0 L880.6,447.5 L880.9,449.0 L881.3,450.5 L881.6,452.0 L881.9,453.5 L882.3,455.0 L882.6,456.5 L882.9,458.0 L883.2,459.5 L883.6,461.0 L883.9,462.5 L884.2,464.0 L884.5,465.5 L884.8,467.0 L885.2,468.5 L885.5,470.0 L885.8,471.5 L886.1,473.0 L886.5,474.5 L886.8,476.0 L887.1,477.5 L887.4,479.0 L887.7,480.5 L888.1,482.0 L888.4,483.5 L888.7,485.0 L889.0,486.5 L889.3,488.0 L889.7,489.5 L890.0,491.0 L890.3,492.5 L890.6,494.0 L890.9,495.5 L891.2,497.0 L891.6,498.5 L891.9,500.0 L892.2,501.5 L892.5,503.0 L892.8,504.5 L893.1,506.0 L893.4,507.5 L893.8,509.0 L894.1,510.5 L894.4,512.0 L894.7,513.5 L895.0,515.0 L895.3,516.5 L895.6,518.0 L896.0,519.5 L896.3,521.0 L896.6,522.5 L896.9,524.0 L897.2,525.5 L897.5,527.0 L897.8,528.5 L898.1,530.0 L898.4,531.5 L898.8,533.0 L899.1,534.5 L899.4,536.0 L899.7,537.5 L900.0,539.0 L900.3,540.5 L900.6,542.0 L900.9,543.5 L901.2,545.0 L901.5,546.5 L901.8,548.0 L902.1,549.5 L902.4,551.0 L902.7,552.5 L903.1,554.0 L903.4,555.5 L903.7,557.0 L904.0,558.5 L904.3,560.0 L904.6,561.5 L904.9,563.0 L905.2,564.5 L905.5,566.0 L905.8,567.5 L906.1,569.0 L906.4,570.5 L906.7,572.0 L907.0,573.5 L907.3,575.0 L907.6,576.5 L907.9,578.0 L908.2,579.5 L908.5,581.0 L908.8,582.5 L909.1,584.0 L909.4,585.5 L909.7,587.0 L910.0,588.5 L910.3,590.0 L910.6,591.5 L910.9,593.0 L911.2,594.5 L911.5,596.0 L911.8,597.5 L912.1,599.0 L912.4,600.5 L912.7,602.0 L913.0,603.5 L913.3,605.0 L913.6,606.5 L913.8,608.0 L914.1,609.5 L914.4,611.0 L914.7,612.5 L915.0,614.0 L915.3,615.5 L915.6,617.0 L915.9,618.5 L916.2,620.0 L916.5,621.5 L916.8,623.0 L917.1,624.5 L917.4,626.0 L917.7,627.5 L917.9,629.0 L918.2,630.5 L918.5,632.0 L918.8,633.5 L919.1,635.0 L919.4,636.5 L919.7,638.0 L920.0,639.5 L920.3,641.0 L920.5,642.5 L920.8,644.0 L921.1,645.5 L921.4,647.0 L921.7,648.5 L922.0,650.0 L922.3,651.5 L922.6,653.0 L922.8,654.5 L923.1,656.0 L923.4,657.5 L923.7,659.0 L924.0,660.5 L924.3,662.0 L924.5,663.5 L924.8,665.0 L925.1,666.5 L925.4,668.0 L925.7,669.5 L926.0,671.0 L926.2,672.5 L926.5,674.0 L926.8,675.5 L927.1,677.0 L927.4,678.5 L927.7,680.0 L927.9,681.5 L928.2,683.0 L928.5,684.5 L928.8,686.0 L929.1,687.5 L929.3,689.0 L929.6,690.5 L929.9,692.0 L930.2,693.5 L930.4,695.0 L930.7,696.5 L931.0,698.0 L931.3,699.5 L931.6,701.0 L931.8,702.5 L932.1,704.0 L932.4,705.5 L932.7,707.0 L932.9,708.5 L933.2,710.0 L933.5,711.5 L933.8,713.0 L934.0,714.5 L934.3,716.0 L934.6,717.5 L934.9,719.0 L935.1,720.5 L935.4,722.0 L935.7,723.5 L935.9,725.0 L936.2,726.5 L936.5,728.0 L936.8,729.5 L937.0,731.0 L937.3,732.5 L937.6,734.0 L937.9,735.5 L938.1,737.0 L938.4,738.5 L938.7,740.0 L938.9,741.5 L939.2,743.0 L939.5,744.5 L939.7,746.0 L940.0,747.5 L940.3,749.0 L940.6,750.5 L940.8,752.0 L941.1,753.5 L941.4,755.0 L941.6,756.5 L941.9,758.0 L942.2,759.5 L942.4,761.0 L942.7,762.5 L943.0,764.0 L943.3,765.5 L943.5,767.0 L943.8,768.5 L944.1,770.0 L944.3,771.5 L944.6,773.0 L944.9,774.5 L945.1,776.0 L945.4,777.5 L945.7,779.0 L945.9,780.5 L946.2,782.0 L946.5,783.5 L946.7,785.0 L947.0,786.5 L947.3,788.0 L947.6,789.5 L947.8,791.0 L948.1,792.5 L948.4,794.0 L948.6,795.5 L948.9,797.0 L949.2,798.5 L949.4,800.0 L949.7,801.5 L950.0,803.0 L950.2,804.5 L950.5,806.0 L950.8,807.5 L951.1,809.0 L951.3,810.5 L951.6,812.0 L951.9,813.5 L952.1,815.0 L952.4,816.5 L952.7,818.0 L953.0,819.5 L953.2,821.0 L953.5,822.5 L953.8,824.0 L954.0,825.5 L954.3,827.0 L954.6,828.5 L954.9,830.0 L955.1,831.5 L955.4,833.0 L955.7,834.5 L956.0,836.0 L956.2,837.5 L956.5,839.0 L956.8,840.5 L957.0,842.0 L957.3,843.5 L957.6,845.0 L957.9,846.5 L958.1,848.0 L958.4,849.5 L958.7,851.0 L959.0,852.5 L959.3,854.0 L959.5,855.5 L959.8,857.0 L960.1,858.5 L960.4,860.0 L960.6,861.5 L960.9,863.0 L961.2,864.5 L961.5,866.0 L961.8,867.5 L962.0,869.0 L962.3,870.5 L962.6,872.0 L962.9,873.5 L963.2,875.0 L963.5,876.5 L963.7,878.0 L964.0,879.5 L964.3,881.0 L964.6,882.5 L964.9,884.0 L965.2,885.5 L965.4,887.0 L965.7,888.5 L966.0,890.0 L966.3,891.5 L966.6,893.0 L966.9,894.5 L967.1,896.0 L967.4,897.5 L967.7,899.0 L968.0,900.5 L968.3,902.0 L968.6,903.5 L968.8,905.0 L969.1,906.5 L969.4,908.0 L969.7,909.5 L970.0,911.0 L970.3,912.5 L970.6,914.0 L970.8,915.5 L971.1,917.0 L971.4,918.5 L971.7,920.0 L972.0,921.5 L972.3,923.0 L972.5,924.5 L972.8,926.0 L973.1,927.5 L973.4,929.0 L973.7,930.5 L974.0,932.0 L974.2,933.5 L974.5,935.0 L974.8,936.5 L975.1,938.0 L975.4,939.5 L975.6,941.0 L975.9,942.5 L976.2,944.0 L976.5,945.5 L976.7,947.0 L977.0,948.5 L977.3,950.0 L977.6,951.5 L977.9,953.0 L978.1,954.5 L978.4,956.0 L978.7,957.5 L978.9,959.0 L979.2,960.5 L979.5,962.0 L979.8,963.5 L980.0,965.0 L980.3,966.5 L980.6,968.0 L980.8,969.5 L981.1,971.0 L981.4,972.5 L981.6,974.0 L981.9,975.5 L982.2,977.0 L982.4,978.5 L982.7,980.0 L983.0,981.5 L983.2,983.0 L983.5,984.5 L983.7,986.0 L984.0,987.5 L984.3,989.0 L984.5,990.5 L984.8,992.0 L985.0,993.5 L985.3,995.0 L985.5,996.5 L985.8,998.0 L986.0,999.5 L986.3,1001.0 L986.5,1002.5 L986.8,1004.0 L987.0,1005.5 L987.3,1007.0 L987.5,1008.5 L987.8,1010.0 L988.0,1011.5 L988.3,1013.0 L988.5,1014.5 L988.7,1016.0 L989.0,1017.5 L989.2,1019.0 L989.5,1020.5 L989.7,1022.0 L989.9,1023.5 L990.2,1025.0 L990.4,1026.5 L990.7,1028.0 L990.9,1029.5 L991.1,1031.0 L991.4,1032.5 L991.6,1034.0 L991.9,1035.5 L992.1,1037.0 L992.3,1038.5 L992.6,1040.0 L992.8,1041.5 L993.0,1043.0 L993.3,1044.5 L993.5,1046.0 L993.8,1047.5 L994.0,1049.0 L994.2,1050.5 L994.5,1052.0 L994.7,1053.5 L994.9,1055.0 L995.2,1056.5 L995.4,1058.0 L995.7,1059.5 L995.9,1061.0 L996.1,1062.5 L996.4,1064.0 L996.6,1065.5 L996.8,1067.0 L997.1,1068.5 L997.3,1070.0 L997.6,1071.5 L997.8,1073.0 L998.1,1074.5 L998.3,1076.0 L998.5,1077.5 L998.8,1079.0 L999.0,1080.5 L999.3,1082.0 L999.5,1083.5 L999.8,1085.0 L1000.0,1086.5 L1000.3,1088.0 L1000.5,1089.5 L1000.8,1091.0 L1001.0,1092.5 L1001.3,1094.0 L1001.5,1095.5 L1001.8,1097.0 L1002.0,1098.5 L1002.3,1100.0 L1002.5,1101.5 L1002.8,1103.0 L1003.0,1104.5 L1003.3,1106.0 L1003.6,1107.5 L1003.8,1109.0 L1004.1,1110.5 L1004.4,1112.0 L1004.6,1113.5 L1004.9,1115.0 L1005.2,1116.5 L1005.4,1118.0 L1005.7,1119.5 L1006.0,1121.0 L1006.2,1122.5 L1006.5,1124.0 L1006.8,1125.5 L1007.1,1127.0 L1007.4,1128.5 L1007.6,1130.0 L1007.9,1131.5 L1008.2,1133.0 L1008.5,1134.5 L1008.8,1136.0 L1009.1,1137.5 L1009.4,1139.0 L1009.6,1140.5 L1009.9,1142.0 L1010.2,1143.5 L1010.5,1145.0 L1010.8,1146.5 L1011.1,1148.0 L1011.4,1149.5 L1011.7,1151.0 L1012.1,1152.5 L1012.4,1154.0 L1012.7,1155.5 L1013.0,1157.0 L1013.3,1158.5 L1013.6,1160.0 L1013.9,1161.5 L1014.3,1163.0 L1014.6,1164.5 L1014.9,1166.0 L1015.3,1167.5 L1015.6,1169.0 L1015.9,1170.5 L1016.3,1172.0 L1016.6,1173.5 L1016.9,1175.0 L1017.3,1176.5 L1017.6,1178.0 L1018.0,1179.5 L1018.3,1181.0 L1018.7,1182.5 L1019.0,1184.0 L1019.4,1185.5 L1019.8,1187.0 L1020.1,1188.5 L1020.5,1190.0 L1020.9,1191.5 L1021.2,1193.0 L1021.6,1194.5 L1022.0,1196.0 L1022.4,1197.5 L1022.7,1199.0 L1023.1,1200.5 L1023.5,1202.0 L1023.9,1203.6 L1024.4,1205.2 L1024.8,1206.8 L1025.2,1208.3 L1025.6,1209.8 L1026.0,1211.2 L1026.3,1212.5 L1026.7,1214.0 L1027.1,1215.2 L1027.4,1216.5 L1027.9,1218.0 L1028.4,1219.6 L1028.9,1221.4 L1029.6,1223.4 L1030.3,1225.5 L1031.0,1227.7 L1031.8,1229.8 L1032.5,1231.8 L1033.3,1233.6 L1034.0,1235.0 L1034.6,1236.5 L1035.3,1237.8 L1036.0,1239.2 L1036.7,1240.4 L1037.4,1241.7 L1038.2,1242.9 L1038.9,1244.0 L1039.5,1244.9 L1040.1,1245.8 L1040.7,1246.6 L1041.2,1247.5 L1041.9,1248.2 L1042.5,1249.0 L1043.2,1249.6 L1044.0,1250.2 L1044.9,1250.7 L1045.9,1251.1 L1046.9,1251.4 L1047.9,1251.7 L1049.0,1251.9 L1050.2,1252.1 L1051.3,1252.3 L1052.4,1252.6 L1053.6,1252.9 L1054.8,1253.2 L1056.0,1253.5 L1057.3,1253.8 L1058.6,1254.1 L1059.9,1254.3 L1061.3,1254.6 L1062.8,1254.8 L1065.1,1255.1 L1067.5,1255.3 L1070.1,1255.5 L1072.7,1255.6 L1075.5,1255.8 L1078.2,1255.9 L1081.0,1256.0 L1083.6,1256.2 L1086.1,1256.4 L1088.6,1256.6 L1091.0,1256.7 L1093.4,1256.9 L1095.9,1257.1 L1098.6,1257.3 L1101.3,1257.5 L1104.3,1257.7 L1109.3,1258.0 L1114.9,1258.4 L1120.9,1258.8 L1127.2,1259.2 L1133.4,1259.7 L1139.5,1260.1 L1145.1,1260.5 L1150.0,1260.8 L1152.9,1261.0 L1155.5,1261.2 L1157.9,1261.4 L1160.2,1261.6 L1162.5,1261.8 L1164.9,1262.0 L1167.3,1262.1 L1170.0,1262.3 L1173.5,1262.5 L1177.2,1262.7 L1180.9,1262.8 L1184.7,1263.0 L1188.7,1263.1 L1192.8,1263.3 L1197.1,1263.4 L1201.6,1263.6 L1208.3,1263.9 L1215.6,1264.1 L1223.4,1264.4 L1231.4,1264.7 L1239.4,1265.0 L1247.3,1265.3 L1254.9,1265.6 L1262.0,1265.8 L1267.4,1266.0 L1272.5,1266.2 L1277.4,1266.4 L1282.3,1266.5 L1287.1,1266.7 L1291.9,1266.8 L1296.9,1267.0 L1302.0,1267.1 L1307.5,1267.2 L1312.6,1267.3 L1317.7,1267.4 L1322.9,1267.4 L1328.5,1267.5 L1334.8,1267.5 L1341.8,1267.6 L1350.0,1267.6 L1379.0,1267.7 L1416.5,1267.7 L1460.5,1267.7 L1509.1,1267.7 L1560.3,1267.7 L1612.2,1267.6 L1662.7,1267.6 L1710.0,1267.6"/>
<path stroke="#00ff00" d="M190.0,32.4 L191.4,32.4 L192.8,32.4 L194.1,32.4 L195.4,32.4 L196.8,32.4 L198.4,32.4 L200.1,32.4 L202.0,32.4 L207.3,32.4 L213.9,32.4 L221.4,32.4 L229.5,32.4 L237.7,32.4 L245.8,32.5 L253.4,32.5 L260.0,32.6 L264.3,32.7 L268.3,32.7 L272.2,32.8 L276.0,32.8 L279.6,32.9 L283.2,33.0 L286.6,33.1 L290.0,33.3 L292.7,33.5 L295.3,33.6 L297.8,33.8 L300.2,34.0 L302.6,34.2 L305.0,34.4 L307.5,34.7 L310.0,35.0 L312.7,35.4 L315.5,35.8 L318.3,36.2 L321.1,36.7 L323.9,37.2 L326.7,37.7 L329.4,38.3 L332.0,38.8 L334.2,39.3 L336.4,39.7 L338.5,40.2 L340.6,40.7 L342.6,41.2 L344.7,41.7 L346.7,42.3 L348.8,42.9 L350.9,43.6 L353.1,44.3 L355.2,45.1 L357.3,45.9 L359.4,46.7 L361.5,47.4 L363.5,48.2 L365.4,48.9 L366.9,49.4 L368.3,49.9 L369.7,50.4 L371.0,50.9 L372.4,51.3 L373.7,51.8 L375.1,52.3 L376.5,52.9 L378.1,53.6 L379.7,54.3 L381.4,55.0 L383.0,55.8 L384.7,56.6 L386.4,57.4 L388.2,58.3 L390.0,59.2 L392.3,60.4 L394.8,61.6 L397.3,62.9 L399.8,64.2 L402.4,65.5 L405.0,66.9 L407.5,68.2 L410.0,69.5 L412.4,70.8 L414.8,72.0 L417.2,73.3 L419.5,74.5 L421.9,75.8 L424.2,77.0 L426.5,78.3 L428.8,79.6 L430.9,80.8 L433.0,82.0 L435.0,83.3 L437.0,84.5 L439.0,85.8 L441.0,87.0 L443.0,88.3 L445.0,89.5 L446.9,90.7 L448.9,92.0 L450.8,93.3 L452.7,94.6 L454.6,95.8 L456.5,97.0 L458.3,98.2 L460.0,99.3 L461.4,100.1 L462.7,101.0 L464.1,101.8 L465.4,102.5 L466.7,103.3 L467.9,104.0 L469.0,104.6 L470.0,105.3 L471.1,106.1 L472.0,106.8 L472.9,107.5 L474.0,108.3 L475.3,109.2 L476.8,110.2 L478.5,111.3 L480.3,112.4 L482.2,113.5 L484.1,114.7 L485.9,115.7 L487.7,116.7 L489.3,117.5 L490.9,118.3 L492.6,119.1 L494.2,119.9 L495.8,120.6 L497.5,121.3 L499.1,121.9 L500.8,122.6 L502.5,123.3 L504.3,123.9 L506.0,124.5 L507.7,125.0 L509.5,125.6 L511.4,126.1 L513.3,126.7 L515.4,127.3 L518.5,128.1 L521.9,129.0 L525.5,129.9 L529.2,130.8 L532.9,131.6 L536.5,132.5 L540.0,133.3 L543.2,134.0 L545.5,134.5 L547.6,135.0 L549.7,135.5 L551.7,135.9 L553.7,136.4 L555.7,136.8 L557.8,137.2 L560.0,137.6 L562.8,138.1 L565.7,138.6 L568.8,139.0 L571.8,139.5 L574.9,139.9 L578.0,140.3 L581.0,140.6 L584.0,140.9 L586.6,141.1 L589.0,141.2 L591.4,141.2 L593.8,141.2 L596.3,141.2 L598.9,141.2 L601.6,141.3 L604.7,141.3 L610.4,141.4 L616.9,141.4 L623.9,141.4 L631.3,141.4 L638.8,141.5 L646.2,141.7 L653.3,142.0 L660.0,142.4 L665.4,142.9 L670.8,143.5 L676.1,144.3 L681.2,145.0 L686.2,145.8 L691.1,146.6 L695.7,147.4 L700.0,148.0 L702.9,148.4 L705.7,148.7 L708.3,149.0 L710.8,149.3 L713.3,149.6 L715.8,150.0 L718.3,150.4 L720.8,150.9 L723.4,151.5 L726.0,152.2 L728.6,153.0 L731.2,153.8 L733.8,154.7 L736.4,155.6 L739.0,156.5 L741.6,157.4 L744.2,158.4 L746.8,159.3 L749.5,160.3 L752.1,161.3 L754.7,162.4 L757.3,163.5 L759.8,164.7 L762.4,166.0 L765.1,167.4 L767.8,169.0 L770.6,170.6 L773.3,172.3 L776.0,174.0 L778.5,175.7 L780.9,177.5 L783.2,179.2 L784.9,180.6 L786.5,182.0 L788.0,183.4 L789.4,184.9 L790.8,186.3 L792.2,187.8 L793.6,189.3 L795.0,190.8 L796.6,192.5 L798.3,194.2 L799.9,196.0 L801.6,197.8 L803.2,199.6 L804.8,201.4 L806.2,203.2 L807.6,205.0 L808.6,206.5 L809.5,208.0 L810.4,209.5 L811.2,211.0 L812.0,212.5 L812.8,214.0 L813.6,215.5 L814.4,217.0 L815.2,218.5 L816.0,220.0 L816.8,221.5 L817.6,223.0 L818.3,224.5 L819.1,226.0 L819.9,227.5 L820.6,229.0 L821.3,230.5 L822.1,232.0 L822.8,233.5 L823.5,235.0 L824.2,236.5 L824.9,238.0 L825.6,239.5 L826.3,241.0 L827.0,242.5 L827.7,244.0 L828.3,245.5 L829.0,247.0 L829.6,248.5 L830.3,250.0 L830.9,251.5 L831.6,253.0 L832.2,254.5 L832.8,256.0 L833.5,257.5 L834.1,259.0 L834.7,260.5 L835.3,262.0 L835.9,263.5 L836.5,265.0 L837.1,266.5 L837.7,268.0 L838.3,269.5 L838.9,271.0 L839.5,272.5 L840.1,274.0 L840.6,275.5 L841.2,277.0 L841.8,278.5 L842.3,280.0 L842.9,281.5 L843.4,283.0 L844.0,284.5 L844.5,286.0 L845.1,287.5 L845.6,289.0 L846.2,290.5 L846.7,292.0 L847.3,293.5 L847.8,295.0 L848.3,296.5 L848.8,298.0 L849.4,299.5 L849.9,301.0 L850.4,302.5 L850.9,304.0 L851.5,305.5 L852.0,307.0 L852.5,308.5 L853.0,310.0 L853.5,311.5 L854.0,313.0 L854.5,314.5 L855.0,316.0 L855.5,317.5 L856.0,319.0 L856.5,320.5 L857.0,322.0 L857.5,323.5 L858.0,325.0 L858.5,326.5 L859.0,328.0 L859.5,329.5 L860.0,331.0 L860.5,332.5 L861.0,334.0 L861.5,335.5 L861.9,337.0 L862.4,338.5 L862.9,340.0 L863.4,341.5 L863.8,343.0 L864.3,344.5 L864.8,346.0 L865.2,347.5 L865.7,349.0 L866.1,350.5 L866.6,352.0 L867.0,353.5 L867.5,355.0 L867.9,356.5 L868.4,358.0 L868.8,359.5 L869.2,361.0 L869.7,362.5 L870.1,364.0 L870.5,365.5 L870.9,367.0 L871.3,368.5 L871.8,370.0 L872.2,371.5 L872.6,373.0 L873.0,374.5 L873.4,376.0 L873.8,377.5 L874.2,379.0 L874.6,380.5 L875.0,382.0 L875.4,383.5 L875.7,385.0 L876.1,386.5 L876.5,388.0 L876.9,389.5 L877.2,391.0 L877.6,392.5 L878.0,394.0 L878.4,395.5 L878.7,397.0 L879.1,398.5 L879.4,400.0 L879.8,401.5 L880.2,403.0 L880.5,404.5 L880.9,406.0 L881.2,407.5 L881.6,409.0 L881.9,410.5 L882.3,412.0 L882.6,413.5 L882.9,415.0 L883.3,416.5 L883.6,418.0 L884.0,419.5 L884.3,421.0 L884.6,422.5 L885.0,424.0 L885.3,425.5 L885.6,427.0 L886.0,428.5 L886.3,430.0 L886.7,431.5 L887.0,433.0 L887.3,434.5 L887.7,436.0 L888.0,437.5 L888.3,439.0 L888.7,440.5 L889.0,442.0 L889.3,443.5 L889.6,445.0 L890.0,446.5 L890.3,448.0 L890.6,449.5 L891.0,451.0 L891.3,452.5 L891.6,454.0 L892.0,455.5 L892.3,457.0 L892.6,458.5 L892.9,460.0 L893.3,461.5 L893.6,463.0 L893.9,464.5 L894.3,466.0 L894.6,467.5 L894.9,469.0 L895.2,470.5 L895.6,472.0 L895.9,473.5 L896.2,475.0 L896.6,476.5 L896.9,478.0 L897.2,479.5 L897.5,481.0 L897.9,482.5 L898.2,484.0 L898.5,485.5 L898.8,487.0 L899.2,488.5 L899.5,490.0 L899.8,491.5 L900.1,493.0 L900.5,494.5 L900.8,496.0 L901.1,497.5 L901.4,499.0 L901.7,500.5 L902.1,502.0 L902.4,503.5 L902.7,505.0 L903.0,506.5 L903.4,508.0 L903.7,509.5 L904.0,511.0 L904.3,512.5 L904.7,514.0 L905.0,515.5 L905.3,517.0 L905.6,518.5 L905.9,520.0 L906.3,521.5 L906.6,523.0 L906.9,524.5 L907.2,526.0 L907.6,527.5 L907.9,529.0 L908.2,530.5 L908.5,532.0 L908.8,533.5 L909.2,535.0 L909.5,536.5 L909.8,538.0 L910.1,539.5 L910.5,541.0 L910.8,542.5 L911.1,544.0 L911.4,545.5 L911.8,547.0 L912.1,548.5 L912.4,550.0 L912.7,551.5 L913.1,553.0 L913.4,554.5 L913.7,556.0 L914.0,557.5 L914.4,559.0 L914.7,560.5 L915.0,562.0 L915.4,563.5 L915.7,565.0 L916.0,566.5 L916.4,568.0 L916.7,569.5 L917.0,571.0 L917.4,572.5 L917.7,574.0 L918.1,575.5 L918.4,577.0 L918.7,578.5 L919.1,580.0 L919.4,581.5 L919.8,583.0 L920.1,584.5 L920.5,586.0 L920.8,587.5 L921.2,589.0 L921.5,590.5 L921.9,592.0 L922.2,593.5 L922.6,595.0 L923.0,596.5 L923.3,598.0 L923.7,599.5 L924.0,601.0 L924.4,602.5 L924.8,604.0 L925.1,605.5 L925.5,607.0 L925.9,608.5 L926.3,610.0 L926.6,611.5 L927.0,613.0 L927.4,614.5 L927.8,616.0 L928.2,617.5 L928.5,619.0 L928.9,620.5 L929.3,622.0 L929.7,623.5 L930.1,625.0 L930.5,626.5 L930.9,628.0 L931.3,629.5 L931.7,631.0 L932.1,632.5 L932.5,634.0 L932.9,635.5 L933.3,637.0 L933.7,638.5 L934.1,640.0 L934.5,641.5 L934.9,643.0 L935.3,644.5 L935.7,646.0 L936.1,647.5 L936.6,649.0 L937.0,650.5 L937.4,652.0 L937.8,653.5 L938.3,655.0 L938.7,656.5 L939.1,658.0 L939.6,659.5 L940.0,661.0 L940.4,662.5 L940.9,664.0 L941.3,665.5 L941.7,667.0 L942.2,668.5 L942.6,670.0 L943.0,671.5 L943.5,673.0 L943.9,674.5 L944.4,676.0 L944.8,677.5 L945.3,679.0 L945.7,680.5 L946.1,682.0 L946.6,683.5 L947.0,685.0 L947.5,686.5 L947.9,688.0 L948.4,689.5 L948.8,691.0 L949.3,692.5 L949.7,694.0 L950.1,695.5 L950.6,697.0 L951.0,698.5 L951.5,700.0 L951.9,701.5 L952.3,703.0 L952.8,704.5 L953.2,706.0 L953.7,707.5 L954.1,709.0 L954.5,710.5 L955.0,712.0 L955.4,713.5 L955.8,715.0 L956.3,716.5 L956.7,718.0 L957.1,719.5 L957.5,721.0 L958.0,722.5 L958.4,724.0 L958.8,725.5 L959.2,727.0 L959.6,728.5 L960.1,730.0 L960.5,731.5 L960.9,733.0 L961.3,734.5 L961.7,736.0 L962.1,737.5 L962.5,739.0 L962.9,740.5 L963.3,742.0 L963.8,743.5 L964.2,745.0 L964.6,746.5 L965.0,748.0 L965.4,749.5 L965.8,751.0 L966.2,752.5 L966.6,754.0 L967.0,755.5 L967.3,757.0 L967.7,758.5 L968.1,760.0 L968.5,761.5 L968.9,763.0 L969.3,764.5 L969.7,766.0 L970.1,767.5 L970.5,769.0 L970.8,770.5 L971.2,772.0 L971.6,773.5 L972.0,775.0 L972.4,776.5 L972.7,778.0 L973.1,779.5 L973.5,781.0 L973.9,782.5 L974.2,784.0 L974.6,785.5 L975.0,787.0 L975.4,788.5 L975.7,790.0 L976.1,791.5 L976.5,793.0 L976.8,794.5 L977.2,796.0 L977.6,797.5 L977.9,799.0 L978.3,800.5 L978.6,802.0 L979.0,803.5 L979.4,805.0 L979.7,806.5 L980.1,808.0 L980.4,809.5 L980.8,811.0 L981.1,812.5 L981.5,814.0 L981.8,815.5 L982.2,817.0 L982.5,818.5 L982.9,820.0 L983.2,821.5 L983.6,823.0 L983.9,824.5 L984.3,826.0 L984.6,827.5 L984.9,829.0 L985.3,830.5 L985.6,832.0 L986.0,833.5 L986.3,835.0 L986.6,836.5 L987.0,838.0 L987.3,839.5 L987.6,841.0 L988.0,842.5 L988.3,844.0 L988.6,845.5 L989.0,847.0 L989.3,848.5 L989.6,850.0 L989.9,851.5 L990.3,853.0 L990.6,854.5 L990.9,856.0 L991.2,857.5 L991.6,859.0 L991.9,860.5 L992.2,862.0 L992.5,863.5 L992.8,865.0 L993.2,866.5 L993.5,868.0 L993.8,869.5 L994.1,871.0 L994.4,872.5 L994.7,874.0 L995.1,875.5 L995.4,877.0 L995.7,878.5 L996.0,880.0 L996.3,881.5 L996.6,883.0 L996.9,884.5 L997.2,886.0 L997.5,887.5 L997.8,889.0 L998.1,890.5 L998.4,892.0 L998.7,893.5 L999.0,895.0 L999.3,896.5 L999.6,898.0 L999.9,899.5 L1000.2,901.0 L1000.5,902.5 L1000.8,904.0 L1001.1,905.5 L1001.4,907.0 L1001.7,908.5 L1002.0,910.0 L1002.3,911.5 L1002.6,913.0 L1002.9,914.5 L1003.2,916.0 L1003.5,917.5 L1003.7,919.0 L1004.0,920.5 L1004.3,922.0 L1004.6,923.5 L1004.9,925.0 L1005.2,926.5 L1005.5,928.0 L1005.8,929.5 L1006.0,931.0 L1006.3,932.5 L1006.6,934.0 L1006.9,935.5 L1007.2,937.0 L1007.4,938.5 L1007.7,940.0 L1008.0,941.5 L1008.3,943.0 L1008.6,944.5 L1008.8,946.0 L1009.1,947.5 L1009.4,949.0 L1009.7,950.5 L1009.9,952.0 L1010.2,953.5 L1010.5,955.0 L1010.7,956.5 L1011.0,958.0 L1011.3,959.5 L1011.6,961.0 L1011.8,962.5 L1012.1,964.0 L1012.4,965.5 L1012.6,967.0 L1012.9,968.5 L1013.2,970.0 L1013.4,971.5 L1013.7,973.0 L1014.0,974.5 L1014.2,976.0 L1014.5,977.5 L1014.8,979.0 L1015.0,980.5 L1015.3,982.0 L1015.5,983.5 L1015.8,985.0 L1016.1,986.5 L1016.3,988.0 L1016.6,989.5 L1016.8,991.0 L1017.1,992.5 L1017.4,994.0 L1017.6,995.5 L1017.9,997.0 L1018.1,998.5 L1018.4,1000.0 L1018.6,1001.5 L1018.9,1003.0 L1019.1,1004.5 L1019.4,1006.0 L1019.7,1007.5 L1019.9,1009.0 L1020.2,1010.5 L1020.4,1012.0 L1020.7,1013.5 L1020.9,1015.0 L1021.2,1016.5 L1021.4,1018.0 L1021.7,1019.5 L1021.9,1021.0 L1022.2,1022.5 L1022.4,1024.0 L1022.7,1025.5 L1022.9,1027.0 L1023.2,1028.5 L1023.4,1030.0 L1023.7,1031.5 L1023.9,1033.0 L1024.2,1034.5 L1024.4,1036.0 L1024.7,1037.5 L1025.0,1039.0 L1025.2,1040.5 L1025.5,1042.0 L1025.7,1043.5 L1026.0,1045.0 L1026.2,1046.5 L1026.5,1048.0 L1026.7,1049.5 L1027.0,1051.0 L1027.2,1052.5 L1027.5,1054.0 L1027.7,1055.5 L1028.0,1057.0 L1028.2,1058.5 L1028.5,1060.0 L1028.8,1061.5 L1029.0,1063.0 L1029.3,1064.5 L1029.5,1066.0 L1029.8,1067.5 L1030.0,1069.0 L1030.3,1070.5 L1030.6,1072.0 L1030.8,1073.5 L1031.1,1075.0 L1031.3,1076.5 L1031.6,1078.0 L1031.9,1079.5 L1032.1,1081.0 L1032.4,1082.5 L1032.6,1084.0 L1032.9,1085.5 L1033.2,1087.0 L1033.4,1088.5 L1033.7,1090.0 L1034.0,1091.5 L1034.2,1093.0 L1034.5,1094.5 L1034.8,1096.0 L1035.0,1097.5 L1035.3,1099.0 L1035.6,1100.5 L1035.9,1102.0 L1036.1,1103.5 L1036.4,1105.0 L1036.7,1106.5 L1037.0,1108.0 L1037.2,1109.5 L1037.5,1111.0 L1037.8,1112.5 L1038.1,1114.0 L1038.4,1115.5 L1038.6,1117.0 L1038.9,1118.5 L1039.2,1120.0 L1039.5,1121.5 L1039.8,1123.0 L1040.1,1124.5 L1040.4,1126.0 L1040.7,1127.5 L1040.9,1129.0 L1041.2,1130.5 L1041.5,1132.0 L1041.8,1133.5 L1042.1,1135.0 L1042.4,1136.5 L1042.7,1138.0 L1043.0,1139.5 L1043.3,1141.0 L1043.6,1142.5 L1043.9,1144.0 L1044.3,1145.5 L1044.6,1147.0 L1044.9,1148.5 L1045.2,1150.0 L1045.5,1151.5 L1045.8,1153.0 L1046.1,1154.5 L1046.5,1156.0 L1046.8,1157.5 L1047.1,1159.0 L1047.4,1160.5 L1047.7,1162.0 L1048.1,1163.5 L1048.4,1165.0 L1048.7,1166.5 L1049.1,1168.0 L1049.4,1169.5 L1049.7,1171.0 L1050.1,1172.5 L1050.4,1174.0 L1050.7,1175.5 L1051.1,1177.0 L1051.4,1178.5 L1051.8,1180.0 L1052.1,1181.5 L1052.5,1183.0 L1052.8,1184.5 L1053.2,1186.0 L1053.5,1187.5 L1053.9,1189.0 L1054.3,1190.5 L1054.6,1192.0 L1055.0,1193.5 L1055.4,1195.0 L1055.7,1196.5 L1056.1,1198.0 L1056.5,1199.5 L1056.8,1201.0 L1057.2,1202.5 L1057.6,1204.1 L1058.0,1205.7 L1058.5,1207.3 L1058.9,1208.9 L1059.2,1210.4 L1059.6,1211.7 L1059.9,1213.0 L1060.3,1214.3 L1060.6,1215.5 L1060.9,1216.6 L1061.3,1218.0 L1061.7,1219.6 L1062.2,1221.5 L1062.7,1223.5 L1063.3,1225.7 L1063.9,1227.9 L1064.7,1230.0 L1065.5,1231.9 L1066.4,1233.5 L1067.2,1234.6 L1068.0,1235.5 L1069.0,1236.4 L1069.9,1237.2 L1070.9,1237.9 L1071.9,1238.6 L1073.0,1239.3 L1074.0,1240.0 L1075.0,1240.7 L1076.1,1241.3 L1077.2,1242.0 L1078.2,1242.6 L1079.4,1243.2 L1080.5,1243.7 L1081.7,1244.4 L1083.0,1245.0 L1084.8,1245.9 L1086.6,1246.7 L1088.6,1247.6 L1090.6,1248.5 L1092.7,1249.5 L1094.8,1250.4 L1097.0,1251.4 L1099.1,1252.4 L1101.6,1253.6 L1104.1,1254.9 L1106.7,1256.2 L1109.4,1257.6 L1112.0,1259.0 L1114.7,1260.3 L1117.3,1261.6 L1119.9,1262.8 L1122.3,1263.9 L1124.7,1265.0 L1127.1,1266.0 L1129.5,1267.0 L1131.9,1268.0 L1134.3,1269.0 L1136.7,1269.9 L1139.2,1270.8 L1141.8,1271.7 L1144.4,1272.5 L1147.0,1273.3 L1149.7,1274.1 L1152.3,1274.9 L1154.9,1275.6 L1157.5,1276.3 L1160.0,1277.0 L1162.2,1277.6 L1164.3,1278.2 L1166.4,1278.7 L1168.4,1279.3 L1170.5,1279.8 L1172.6,1280.3 L1174.8,1280.8 L1177.0,1281.3 L1179.6,1281.9 L1182.1,1282.4 L1184.6,1283.0 L1187.2,1283.5 L1190.0,1284.1 L1193.0,1284.6 L1196.3,1285.0 L1200.0,1285.5 L1208.7,1286.4 L1218.4,1287.1 L1229.3,1287.7 L1241.3,1288.3 L1254.4,1288.8 L1268.6,1289.2 L1283.8,1289.6 L1300.0,1290.0 L1338.0,1290.6 L1383.0,1290.9 L1433.4,1290.9 L1487.6,1290.8 L1544.0,1290.5 L1601.0,1290.3 L1656.9,1290.1 L1710.0,1290.0"/>
<path stroke="#0000ff" d="M190.0,32.2 L191.4,32.2 L192.8,32.2 L194.1,32.2 L195.4,32.2 L196.8,32.2 L198.4,32.2 L200.1,32.2 L202.0,32.2 L207.3,32.2 L213.9,32.2 L221.4,32.2 L229.5,32.2 L237.7,32.2 L245.8,32.2 L253.4,32.3 L260.0,32.4 L264.3,32.5 L268.3,32.6 L272.2,32.7 L276.0,32.8 L279.6,32.9 L283.2,33.0 L286.6,33.2 L290.0,33.4 L292.7,33.6 L295.3,33.7 L297.8,33.9 L300.2,34.1 L302.6,34.3 L305.0,34.5 L307.5,34.8 L310.0,35.2 L312.8,35.7 L315.6,36.2 L318.4,36.7 L321.3,37.4 L324.1,38.0 L326.9,38.7 L329.6,39.3 L332.2,40.0 L334.4,40.6 L336.5,41.1 L338.6,41.7 L340.7,42.3 L342.7,42.9 L344.7,43.5 L346.8,44.1 L348.8,44.8 L350.9,45.5 L353.0,46.2 L355.2,47.0 L357.3,47.7 L359.4,48.5 L361.5,49.3 L363.5,50.0 L365.4,50.8 L366.9,51.4 L368.3,52.0 L369.7,52.7 L371.1,53.3 L372.4,53.9 L373.7,54.6 L375.1,55.3 L376.5,56.0 L378.1,56.9 L379.7,57.9 L381.4,58.9 L383.0,59.9 L384.7,61.0 L386.4,62.1 L388.2,63.2 L390.0,64.3 L392.3,65.7 L394.7,67.1 L397.2,68.6 L399.8,70.1 L402.4,71.7 L405.0,73.2 L407.5,74.7 L410.0,76.2 L412.4,77.6 L414.8,79.1 L417.1,80.5 L419.5,82.0 L421.9,83.4 L424.2,84.8 L426.5,86.1 L428.8,87.4 L430.9,88.5 L432.9,89.6 L435.0,90.7 L437.0,91.7 L439.0,92.7 L441.0,93.7 L443.0,94.7 L445.0,95.6 L446.9,96.5 L448.8,97.4 L450.8,98.2 L452.7,99.0 L454.6,99.9 L456.5,100.6 L458.3,101.4 L460.0,102.1 L461.3,102.6 L462.6,103.2 L463.8,103.7 L464.9,104.2 L466.1,104.6 L467.3,105.1 L468.6,105.5 L470.0,106.0 L472.0,106.6 L474.1,107.2 L476.4,107.8 L478.7,108.4 L481.0,108.9 L483.3,109.5 L485.6,110.0 L487.7,110.5 L489.4,110.9 L491.1,111.3 L492.7,111.7 L494.3,112.1 L495.9,112.5 L497.5,112.9 L499.1,113.3 L500.8,113.6 L502.6,114.0 L504.3,114.3 L506.0,114.6 L507.7,114.9 L509.5,115.2 L511.4,115.5 L513.3,115.8 L515.4,116.1 L518.5,116.5 L521.9,116.9 L525.5,117.2 L529.2,117.6 L532.9,117.9 L536.5,118.2 L540.0,118.5 L543.2,118.8 L545.5,119.0 L547.6,119.2 L549.7,119.4 L551.7,119.5 L553.7,119.7 L555.7,119.8 L557.8,120.0 L560.0,120.1 L562.8,120.3 L565.7,120.5 L568.8,120.6 L571.8,120.8 L574.9,120.9 L578.0,121.1 L581.1,121.2 L584.0,121.3 L586.7,121.4 L589.3,121.4 L591.9,121.4 L594.4,121.4 L597.0,121.4 L599.6,121.4 L602.1,121.5 L604.7,121.5 L607.3,121.6 L609.8,121.6 L612.3,121.7 L614.8,121.8 L617.3,121.9 L619.9,122.0 L622.6,122.1 L625.5,122.2 L629.4,122.4 L633.5,122.5 L637.7,122.7 L642.1,122.9 L646.5,123.1 L651.0,123.4 L655.5,123.7 L660.0,124.2 L665.0,124.8 L670.1,125.5 L675.4,126.4 L680.7,127.2 L685.8,128.2 L690.9,129.1 L695.6,130.1 L700.0,131.0 L702.9,131.7 L705.7,132.3 L708.3,133.0 L710.8,133.7 L713.3,134.4 L715.8,135.1 L718.2,135.8 L720.8,136.5 L723.4,137.2 L726.0,137.8 L728.6,138.5 L731.2,139.2 L733.8,139.9 L736.4,140.6 L739.0,141.4 L741.6,142.3 L744.2,143.3 L746.9,144.3 L749.5,145.4 L752.2,146.5 L754.8,147.7 L757.3,149.0 L759.9,150.4 L762.4,152.0 L765.2,153.9 L767.9,156.1 L770.7,158.3 L773.5,160.8 L776.1,163.2 L778.6,165.7 L781.0,168.0 L783.2,170.3 L784.7,172.0 L786.1,173.6 L787.4,175.1 L788.7,176.7 L789.9,178.3 L791.1,179.9 L792.3,181.6 L793.6,183.4 L795.2,185.7 L797.0,188.1 L798.7,190.7 L800.5,193.3 L802.2,195.9 L803.8,198.4 L805.3,200.9 L806.6,203.2 L807.4,204.8 L808.1,206.4 L808.8,207.9 L809.4,209.3 L809.9,210.8 L810.5,212.3 L811.0,213.7 L811.6,215.2 L812.3,216.7 L812.9,218.2 L813.5,219.7 L814.1,221.2 L814.7,222.7 L815.3,224.2 L815.9,225.7 L816.5,227.2 L817.1,228.7 L817.6,230.2 L818.2,231.7 L818.8,233.2 L819.4,234.7 L819.9,236.2 L820.5,237.7 L821.1,239.2 L821.6,240.7 L822.2,242.2 L822.7,243.7 L823.3,245.2 L823.8,246.7 L824.4,248.2 L824.9,249.7 L825.4,251.2 L826.0,252.7 L826.5,254.2 L827.0,255.7 L827.5,257.2 L828.0,258.7 L828.6,260.2 L829.1,261.7 L829.6,263.2 L830.1,264.7 L830.6,266.2 L831.1,267.7 L831.6,269.2 L832.1,270.7 L832.5,272.2 L833.0,273.7 L833.5,275.2 L834.0,276.7 L834.5,278.2 L834.9,279.7 L835.4,281.2 L835.9,282.7 L836.3,284.2 L836.8,285.7 L837.3,287.2 L837.7,288.7 L838.2,290.2 L838.6,291.7 L839.1,293.2 L839.5,294.7 L839.9,296.2 L840.4,297.7 L840.8,299.2 L841.2,300.7 L841.7,302.2 L842.1,303.7 L842.5,305.2 L843.0,306.7 L843.4,308.2 L843.8,309.7 L844.2,311.2 L844.6,312.7 L845.0,314.2 L845.4,315.7 L845.8,317.2 L846.3,318.7 L846.7,320.2 L847.1,321.7 L847.4,323.2 L847.8,324.7 L848.2,326.2 L848.6,327.7 L849.0,329.2 L849.4,330.7 L849.8,332.2 L850.2,333.7 L850.5,335.2 L850.9,336.7 L851.3,338.2 L851.7,339.7 L852.0,341.2 L852.4,342.7 L852.8,344.2 L853.1,345.7 L853.5,347.2 L853.9,348.7 L854.2,350.2 L854.6,351.7 L854.9,353.2 L855.3,354.7 L855.6,356.2 L856.0,357.7 L856.4,359.2 L856.7,360.7 L857.0,362.2 L857.4,363.7 L857.7,365.2 L858.1,366.7 L858.4,368.2 L858.8,369.7 L859.1,371.2 L859.4,372.7 L859.8,374.2 L860.1,375.7 L860.4,377.2 L860.8,378.7 L861.1,380.2 L861.4,381.7 L861.7,383.2 L862.1,384.7 L862.4,386.2 L862.7,387.7 L863.0,389.2 L863.3,390.7 L863.7,392.2 L864.0,393.7 L864.3,395.2 L864.6,396.7 L864.9,398.2 L865.2,399.7 L865.6,401.2 L865.9,402.7 L866.2,404.2 L866.5,405.7 L866.8,407.2 L867.1,408.7 L867.4,410.2 L867.7,411.7 L868.0,413.2 L868.3,414.7 L868.6,416.2 L868.9,417.7 L869.2,419.2 L869.5,420.7 L869.8,422.2 L870.1,423.7 L870.4,425.2 L870.7,426.7 L871.0,428.2 L871.3,429.7 L871.6,431.2 L871.9,432.7 L872.2,434.2 L872.5,435.7 L872.8,437.2 L873.1,438.7 L873.4,440.2 L873.7,441.7 L874.0,443.2 L874.3,444.7 L874.5,446.2 L874.8,447.7 L875.1,449.2 L875.4,450.7 L875.7,452.2 L876.0,453.7 L876.3,455.2 L876.6,456.7 L876.8,458.2 L877.1,459.7 L877.4,461.2 L877.7,462.7 L878.0,464.2 L878.2,465.7 L878.5,467.2 L878.8,468.7 L879.1,470.2 L879.4,471.7 L879.6,473.2 L879.9,474.7 L880.2,476.2 L880.5,477.7 L880.8,479.2 L881.0,480.7 L881.3,482.2 L881.6,483.7 L881.9,485.2 L882.1,486.7 L882.4,488.2 L882.7,489.7 L882.9,491.2 L883.2,492.7 L883.5,494.2 L883.8,495.7 L884.0,497.2 L884.3,498.7 L884.6,500.2 L884.8,501.7 L885.1,503.2 L885.4,504.7 L885.6,506.2 L885.9,507.7 L886.2,509.2 L886.4,510.7 L886.7,512.2 L887.0,513.7 L887.2,515.2 L887.5,516.7 L887.8,518.2 L888.0,519.7 L888.3,521.2 L888.6,522.7 L888.8,524.2 L889.1,525.7 L889.3,527.2 L889.6,528.7 L889.9,530.2 L890.1,531.7 L890.4,533.2 L890.7,534.7 L890.9,536.2 L891.2,537.7 L891.4,539.2 L891.7,540.7 L892.0,542.2 L892.2,543.7 L892.5,545.2 L892.7,546.7 L893.0,548.2 L893.2,549.7 L893.5,551.2 L893.8,552.7 L894.0,554.2 L894.3,555.7 L894.5,557.2 L894.8,558.7 L895.0,560.2 L895.3,561.7 L895.6,563.2 L895.8,564.7 L896.1,566.2 L896.3,567.7 L896.6,569.2 L896.8,570.7 L897.1,572.2 L897.3,573.7 L897.6,575.2 L897.8,576.7 L898.1,578.2 L898.4,579.7 L898.6,581.2 L898.9,582.7 L899.1,584.2 L899.4,585.7 L899.6,587.2 L899.9,588.7 L900.1,590.2 L900.4,591.7 L900.6,593.2 L900.9,594.7 L901.1,596.2 L901.4,597.7 L901.6,599.2 L901.9,600.7 L902.1,602.2 L902.4,603.7 L902.7,605.2 L902.9,606.7 L903.2,608.2 L903.4,609.7 L903.7,611.2 L903.9,612.7 L904.2,614.2 L904.4,615.7 L904.7,617.2 L904.9,618.7 L905.2,620.2 L905.4,621.7 L905.7,623.2 L905.9,624.7 L906.2,626.2 L906.4,627.7 L906.7,629.2 L906.9,630.7 L907.2,632.2 L907.4,633.7 L907.7,635.2 L908.0,636.7 L908.2,638.2 L908.5,639.7 L908.7,641.2 L909.0,642.7 L909.2,644.2 L909.5,645.7 L909.7,647.2 L910.0,648.7 L910.2,650.2 L910.5,651.7 L910.7,653.2 L911.0,654.7 L911.2,656.2 L911.5,657.7 L911.8,659.2 L912.0,660.7 L912.3,662.2 L912.5,663.7 L912.8,665.2 L913.0,666.7 L913.3,668.2 L913.5,669.7 L913.8,671.2 L914.1,672.7 L914.3,674.2 L914.6,675.7 L914.8,677.2 L915.1,678.7 L915.3,680.2 L915.6,681.7 L915.9,683.2 L916.1,684.7 L916.4,686.2 L916.6,687.7 L916.9,689.2 L917.2,690.7 L917.4,692.2 L917.7,693.7 L917.9,695.2 L918.2,696.7 L918.5,698.2 L918.7,699.7 L919.0,701.2 L919.2,702.7 L919.5,704.2 L919.8,705.7 L920.0,707.2 L920.3,708.7 L920.5,710.2 L920.8,711.7 L921.1,713.2 L921.3,714.7 L921.6,716.2 L921.9,717.7 L922.1,719.2 L922.4,720.7 L922.7,722.2 L922.9,723.7 L923.2,725.2 L923.4,726.7 L923.7,728.2 L924.0,729.7 L924.2,731.2 L924.5,732.7 L924.8,734.2 L925.0,735.7 L925.3,737.2 L925.6,738.7 L925.8,740.2 L926.1,741.7 L926.4,743.2 L926.6,744.7 L926.9,746.2 L927.2,747.7 L927.4,749.2 L927.7,750.7 L928.0,752.2 L928.2,753.7 L928.5,755.2 L928.8,756.7 L929.0,758.2 L929.3,759.7 L929.6,761.2 L929.9,762.7 L930.1,764.2 L930.4,765.7 L930.7,767.2 L930.9,768.7 L931.2,770.2 L931.5,771.7 L931.7,773.2 L932.0,774.7 L932.3,776.2 L932.6,777.7 L932.8,779.2 L933.1,780.7 L933.4,782.2 L933.6,783.7 L933.9,785.2 L934.2,786.7 L934.4,788.2 L934.7,789.7 L935.0,791.2 L935.3,792.7 L935.5,794.2 L935.8,795.7 L936.1,797.2 L936.4,798.7 L936.6,800.2 L936.9,801.7 L937.2,803.2 L937.4,804.7 L937.7,806.2 L938.0,807.7 L938.3,809.2 L938.5,810.7 L938.8,812.2 L939.1,813.7 L939.4,815.2 L939.6,816.7 L939.9,818.2 L940.2,819.7 L940.4,821.2 L940.7,822.7 L941.0,824.2 L941.3,825.7 L941.5,827.2 L941.8,828.7 L942.1,830.2 L942.4,831.7 L942.6,833.2 L942.9,834.7 L943.2,836.2 L943.5,837.7 L943.7,839.2 L944.0,840.7 L944.3,842.2 L944.6,843.7 L944.8,845.2 L945.1,846.7 L945.4,848.2 L945.7,849.7 L945.9,851.2 L946.2,852.7 L946.5,854.2 L946.8,855.7 L947.0,857.2 L947.3,858.7 L947.6,860.2 L947.9,861.7 L948.1,863.2 L948.4,864.7 L948.7,866.2 L949.0,867.7 L949.2,869.2 L949.5,870.7 L949.8,872.2 L950.1,873.7 L950.4,875.2 L950.6,876.7 L950.9,878.2 L951.2,879.7 L951.5,881.2 L951.7,882.7 L952.0,884.2 L952.3,885.7 L952.6,887.2 L952.8,888.7 L953.1,890.2 L953.4,891.7 L953.7,893.2 L953.9,894.7 L954.2,896.2 L954.5,897.7 L954.8,899.2 L955.1,900.7 L955.3,902.2 L955.6,903.7 L955.9,905.2 L956.2,906.7 L956.4,908.2 L956.7,909.7 L957.0,911.2 L957.3,912.7 L957.5,914.2 L957.8,915.7 L958.1,917.2 L958.4,918.7 L958.6,920.2 L958.9,921.7 L959.2,923.2 L959.5,924.7 L959.7,926.2 L960.0,927.7 L960.3,929.2 L960.6,930.7 L960.9,932.2 L961.1,933.7 L961.4,935.2 L961.7,936.7 L962.0,938.2 L962.2,939.7 L962.5,941.2 L962.8,942.7 L963.1,944.2 L963.3,945.7 L963.6,947.2 L963.9,948.7 L964.2,950.2 L964.4,951.7 L964.7,953.2 L965.0,954.7 L965.3,956.2 L965.5,957.7 L965.8,959.2 L966.1,960.7 L966.4,962.2 L966.6,963.7 L966.9,965.2 L967.2,966.7 L967.5,968.2 L967.7,969.7 L968.0,971.2 L968.3,972.7 L968.6,974.2 L968.8,975.7 L969.1,977.2 L969.4,978.7 L969.7,980.2 L969.9,981.7 L970.2,983.2 L970.5,984.7 L970.8,986.2 L971.0,987.7 L971.3,989.2 L971.6,990.7 L971.9,992.2 L972.1,993.7 L972.4,995.2 L972.7,996.7 L973.0,998.2 L973.3,999.7 L973.5,1001.2 L973.8,1002.7 L974.1,1004.2 L974.4,1005.7 L974.7,1007.2 L974.9,1008.7 L975.2,1010.2 L975.5,1011.7 L975.8,1013.2 L976.1,1014.7 L976.3,1016.2 L976.6,1017.7 L976.9,1019.2 L977.2,1020.7 L977.5,1022.2 L977.8,1023.7 L978.0,1025.2 L978.3,1026.7 L978.6,1028.2 L978.9,1029.7 L979.2,1031.2 L979.5,1032.7 L979.8,1034.2 L980.0,1035.7 L980.3,1037.2 L980.6,1038.7 L980.9,1040.2 L981.2,1041.7 L981.5,1043.2 L981.8,1044.7 L982.1,1046.2 L982.4,1047.7 L982.7,1049.2 L983.0,1050.7 L983.3,1052.2 L983.6,1053.7 L983.9,1055.2 L984.2,1056.7 L984.5,1058.2 L984.8,1059.7 L985.1,1061.2 L985.4,1062.7 L985.7,1064.2 L986.0,1065.7 L986.3,1067.2 L986.6,1068.7 L986.9,1070.2 L987.2,1071.7 L987.5,1073.2 L987.8,1074.7 L988.1,1076.2 L988.5,1077.7 L988.8,1079.2 L989.1,1080.7 L989.4,1082.2 L989.7,1083.7 L990.0,1085.2 L990.4,1086.7 L990.7,1088.2 L991.0,1089.7 L991.3,1091.2 L991.6,1092.7 L992.0,1094.2 L992.3,1095.7 L992.6,1097.2 L992.9,1098.7 L993.3,1100.2 L993.6,1101.7 L993.9,1103.2 L994.3,1104.7 L994.6,1106.2 L994.9,1107.7 L995.3,1109.2 L995.6,1110.7 L996.0,1112.2 L996.3,1113.7 L996.6,1115.2 L997.0,1116.7 L997.3,1118.2 L997.7,1119.7 L998.0,1121.2 L998.4,1122.7 L998.7,1124.2 L999.1,1125.7 L999.4,1127.2 L999.8,1128.7 L1000.2,1130.2 L1000.5,1131.7 L1000.9,1133.2 L1001.2,1134.7 L1001.6,1136.2 L1002.0,1137.7 L1002.3,1139.2 L1002.7,1140.7 L1003.1,1142.2 L1003.5,1143.7 L1003.8,1145.2 L1004.2,1146.7 L1004.6,1148.2 L1005.0,1149.7 L1005.3,1151.2 L1005.7,1152.7 L1006.1,1154.2 L1006.5,1155.7 L1006.9,1157.2 L1007.3,1158.7 L1007.7,1160.2 L1008.1,1161.7 L1008.5,1163.2 L1008.9,1164.7 L1009.3,1166.2 L1009.7,1167.7 L1010.1,1169.2 L1010.5,1170.7 L1010.9,1172.2 L1011.3,1173.7 L1011.8,1175.2 L1012.2,1176.7 L1012.6,1178.2 L1013.0,1179.7 L1013.5,1181.2 L1013.9,1182.7 L1014.3,1184.2 L1014.7,1185.7 L1015.2,1187.2 L1015.6,1188.8 L1016.1,1190.4 L1016.6,1192.0 L1017.1,1193.7 L1017.6,1195.3 L1018.0,1196.7 L1018.4,1198.1 L1018.8,1199.2 L1019.0,1200.1 L1019.3,1201.1 L1019.6,1201.9 L1020.3,1203.7 L1020.9,1205.3 L1021.7,1207.1 L1022.5,1209.0 L1023.5,1210.9 L1024.4,1212.8 L1025.4,1214.5 L1026.4,1215.9 L1027.1,1216.8 L1027.9,1217.6 L1028.7,1218.4 L1029.5,1219.1 L1030.3,1219.8 L1031.2,1220.4 L1032.1,1220.9 L1033.0,1221.5 L1034.0,1222.0 L1035.0,1222.5 L1036.1,1222.9 L1037.1,1223.2 L1038.3,1223.6 L1039.4,1223.9 L1040.7,1224.3 L1042.0,1224.7 L1044.2,1225.4 L1046.6,1226.2 L1049.2,1227.1 L1051.8,1228.0 L1054.6,1228.8 L1057.4,1229.7 L1060.1,1230.5 L1062.8,1231.2 L1065.4,1231.8 L1068.0,1232.4 L1070.6,1233.0 L1073.2,1233.5 L1075.8,1234.0 L1078.4,1234.4 L1081.0,1234.9 L1083.6,1235.4 L1086.2,1235.9 L1088.8,1236.4 L1091.4,1236.8 L1093.9,1237.3 L1096.5,1237.8 L1099.1,1238.2 L1101.7,1238.6 L1104.3,1239.0 L1106.9,1239.4 L1109.5,1239.7 L1112.1,1240.0 L1114.7,1240.3 L1117.3,1240.6 L1119.9,1240.9 L1122.5,1241.1 L1125.1,1241.4 L1127.7,1241.7 L1130.3,1241.9 L1132.8,1242.2 L1135.4,1242.4 L1138.0,1242.7 L1140.6,1242.9 L1143.2,1243.2 L1145.9,1243.4 L1148.8,1243.7 L1151.7,1243.9 L1154.7,1244.2 L1157.6,1244.4 L1160.7,1244.7 L1163.7,1244.9 L1166.8,1245.1 L1170.0,1245.3 L1173.6,1245.5 L1177.2,1245.6 L1180.9,1245.8 L1184.6,1245.9 L1188.5,1246.0 L1192.5,1246.0 L1196.6,1246.1 L1201.0,1246.2 L1207.4,1246.3 L1214.1,1246.4 L1221.2,1246.4 L1228.5,1246.5 L1236.1,1246.5 L1243.9,1246.5 L1251.9,1246.6 L1260.0,1246.6 L1270.2,1246.6 L1280.6,1246.7 L1291.4,1246.7 L1302.4,1246.7 L1313.7,1246.7 L1325.4,1246.8 L1337.5,1246.8 L1350.0,1246.8 L1366.8,1246.8 L1384.5,1246.9 L1402.9,1246.9 L1421.9,1247.0 L1441.2,1247.1 L1460.8,1247.1 L1480.4,1247.2 L1500.0,1247.2 L1523.0,1247.2 L1548.9,1247.2 L1576.0,1247.2 L1602.8,1247.2 L1627.7,1247.2 L1649.3,1247.2 L1665.9,1247.3 L1676.0,1247.4 L1677.0,1247.4 L1678.4,1247.4 L1679.5,1247.5 L1680.5,1247.5 L1681.5,1247.7 L1682.5,1247.8 L1683.5,1248.1 L1684.5,1248.2 L1685.6,1248.4 L1686.7,1248.4 L1687.9,1248.5 L1689.2,1248.5 L1691.9,1248.5 L1694.1,1248.5 L1696.5,1248.5 L1699.2,1248.5 L1701.9,1248.5 L1704.7,1248.5 L1707.4,1248.5 L1710.0,1248.5"/>
</g>
<g fill="#000" shape-rendering="crispEdges">
<rect x="1080.00" y="67.00" width="470.00" height="3.00"/>
<rect x="1080.00" y="309.00" width="470.00" height="2.00"/>
<rect x="1080.00" y="67.00" width="2.00" height="244.00"/>
<rect x="1548.00" y="67.00" width="2.00" height="244.00"/>
</g>
<g>
<polygon fill="#000000" points="1096.7,100.8 1206.5,100.8 1209.2,103.5 1209.2,110.5 1206.5,113.2 1096.7,113.2 1094.0,110.5 1094.0,103.5"/>
<polygon fill="#ff0000" points="1096.7,156.8 1206.5,156.8 1209.2,159.5 1209.2,166.5 1206.5,169.2 1096.7,169.2 1094.0,166.5 1094.0,159.5"/>
<polygon fill="#00ff00" points="1096.7,213.1 1206.5,213.1 1209.2,215.8 1209.2,222.8 1206.5,225.5 1096.7,225.5 1094.0,222.8 1094.0,215.8"/>
<polygon fill="#0000ff" points="1096.7,269.1 1206.5,269.1 1209.2,271.8 1209.2,278.8 1206.5,281.5 1096.7,281.5 1094.0,278.8 1094.0,271.8"/>
</g>
<g font-size="45.5">
<text x="1215.50" y="122.80">PLA</text>
<text x="1215.50" y="178.90">PLA99.5/AM0.5</text>
<text x="1203.90" y="235.90">PLA99/AM1</text>
<text x="1203.90" y="292.00">PLA98/AM2</text>
</g>
</svg></body></html>
